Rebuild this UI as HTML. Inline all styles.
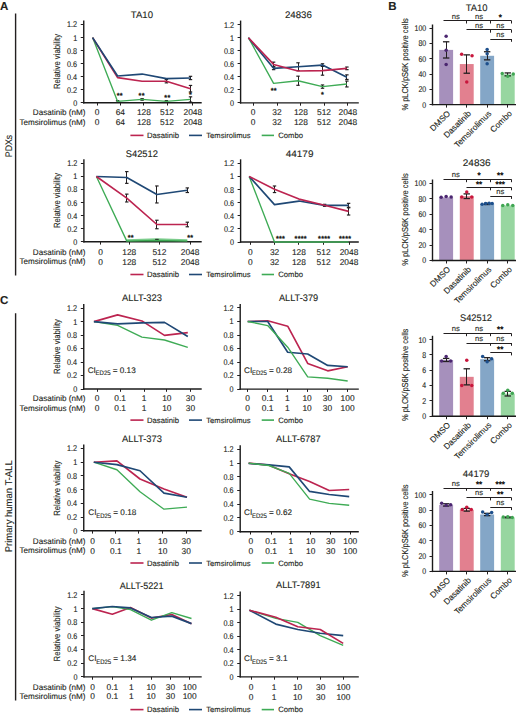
<!DOCTYPE html>
<html><head><meta charset="utf-8"><style>
html,body{margin:0;padding:0;background:#fff;}
body{width:520px;height:714px;overflow:hidden;font-family:"Liberation Sans", sans-serif;}
svg{display:block;}
</style></head><body>
<svg width="520" height="714" viewBox="0 0 520 714" text-rendering="geometricPrecision" font-family='"Liberation Sans", sans-serif'>
<text x="4.20" y="10.02" font-size="11.5" text-anchor="middle" font-weight="bold" fill="#231f20" stroke="#231f20" stroke-width="0.12" >A</text>
<text x="392.50" y="10.02" font-size="11.5" text-anchor="middle" font-weight="bold" fill="#231f20" stroke="#231f20" stroke-width="0.12" >B</text>
<text x="4.20" y="303.62" font-size="11.5" text-anchor="middle" font-weight="bold" fill="#231f20" stroke="#231f20" stroke-width="0.12" >C</text>
<line x1="15.60" y1="13.60" x2="15.60" y2="275.50" stroke="#231f20" stroke-width="1.4" stroke-linecap="butt"/>
<line x1="15.60" y1="313.20" x2="15.60" y2="700.60" stroke="#231f20" stroke-width="1.4" stroke-linecap="butt"/>
<text transform="translate(11.86,146.00) rotate(-90) scale(0.9087,1)" font-size="9.6" text-anchor="middle" fill="#231f20" stroke="#231f20" stroke-width="0.12" font-weight="normal">PDXs</text>
<text transform="translate(12.03,506.30) rotate(-90) scale(0.9660,1)" font-size="9.8" text-anchor="middle" fill="#231f20" stroke="#231f20" stroke-width="0.12" font-weight="normal">Primary human T-ALL</text>
<polyline points="126.8,240.6 156.9,239.6 187.3,240.6" fill="none" stroke="#7ccc8c" stroke-width="2.8"/>
<line x1="83.75" y1="20.48" x2="83.75" y2="103.40" stroke="#1a1a1a" stroke-width="1.4" stroke-linecap="butt"/>
<line x1="83.05" y1="102.70" x2="201.70" y2="102.70" stroke="#1a1a1a" stroke-width="1.4" stroke-linecap="butt"/>
<line x1="80.75" y1="102.50" x2="83.75" y2="102.50" stroke="#231f20" stroke-width="1.0" stroke-linecap="butt"/>
<text transform="translate(77.15,105.61) scale(0.870,1)" font-size="8.3" text-anchor="end" font-weight="normal" fill="#231f20" stroke="#231f20" stroke-width="0.12" >0</text>
<line x1="80.75" y1="89.50" x2="83.75" y2="89.50" stroke="#231f20" stroke-width="1.0" stroke-linecap="butt"/>
<text transform="translate(77.15,92.59) scale(0.870,1)" font-size="8.3" text-anchor="end" font-weight="normal" fill="#231f20" stroke="#231f20" stroke-width="0.12" >0.2</text>
<line x1="80.75" y1="76.50" x2="83.75" y2="76.50" stroke="#231f20" stroke-width="1.0" stroke-linecap="butt"/>
<text transform="translate(77.15,79.56) scale(0.870,1)" font-size="8.3" text-anchor="end" font-weight="normal" fill="#231f20" stroke="#231f20" stroke-width="0.12" >0.4</text>
<line x1="80.75" y1="63.50" x2="83.75" y2="63.50" stroke="#231f20" stroke-width="1.0" stroke-linecap="butt"/>
<text transform="translate(77.15,66.55) scale(0.870,1)" font-size="8.3" text-anchor="end" font-weight="normal" fill="#231f20" stroke="#231f20" stroke-width="0.12" >0.6</text>
<line x1="80.75" y1="50.50" x2="83.75" y2="50.50" stroke="#231f20" stroke-width="1.0" stroke-linecap="butt"/>
<text transform="translate(77.15,53.53) scale(0.870,1)" font-size="8.3" text-anchor="end" font-weight="normal" fill="#231f20" stroke="#231f20" stroke-width="0.12" >0.8</text>
<line x1="80.75" y1="37.50" x2="83.75" y2="37.50" stroke="#231f20" stroke-width="1.0" stroke-linecap="butt"/>
<text transform="translate(77.15,40.51) scale(0.870,1)" font-size="8.3" text-anchor="end" font-weight="normal" fill="#231f20" stroke="#231f20" stroke-width="0.12" >1</text>
<line x1="80.75" y1="24.50" x2="83.75" y2="24.50" stroke="#231f20" stroke-width="1.0" stroke-linecap="butt"/>
<text transform="translate(77.15,27.48) scale(0.870,1)" font-size="8.3" text-anchor="end" font-weight="normal" fill="#231f20" stroke="#231f20" stroke-width="0.12" >1.2</text>
<line x1="97.50" y1="102.70" x2="97.50" y2="105.50" stroke="#231f20" stroke-width="1.0" stroke-linecap="butt"/>
<line x1="120.50" y1="102.70" x2="120.50" y2="105.50" stroke="#231f20" stroke-width="1.0" stroke-linecap="butt"/>
<line x1="143.50" y1="102.70" x2="143.50" y2="105.50" stroke="#231f20" stroke-width="1.0" stroke-linecap="butt"/>
<line x1="167.50" y1="102.70" x2="167.50" y2="105.50" stroke="#231f20" stroke-width="1.0" stroke-linecap="butt"/>
<line x1="192.50" y1="102.70" x2="192.50" y2="105.50" stroke="#231f20" stroke-width="1.0" stroke-linecap="butt"/>
<text x="97.00" y="115.34" font-size="8.4" text-anchor="middle" font-weight="normal" fill="#231f20" stroke="#231f20" stroke-width="0.12" >0</text>
<text x="97.00" y="125.14" font-size="8.4" text-anchor="middle" font-weight="normal" fill="#231f20" stroke="#231f20" stroke-width="0.12" >0</text>
<text x="120.30" y="115.34" font-size="8.4" text-anchor="middle" font-weight="normal" fill="#231f20" stroke="#231f20" stroke-width="0.12" >64</text>
<text x="120.30" y="125.14" font-size="8.4" text-anchor="middle" font-weight="normal" fill="#231f20" stroke="#231f20" stroke-width="0.12" >64</text>
<text x="143.90" y="115.34" font-size="8.4" text-anchor="middle" font-weight="normal" fill="#231f20" stroke="#231f20" stroke-width="0.12" >128</text>
<text x="143.90" y="125.14" font-size="8.4" text-anchor="middle" font-weight="normal" fill="#231f20" stroke="#231f20" stroke-width="0.12" >128</text>
<text x="167.00" y="115.34" font-size="8.4" text-anchor="middle" font-weight="normal" fill="#231f20" stroke="#231f20" stroke-width="0.12" >512</text>
<text x="167.00" y="125.14" font-size="8.4" text-anchor="middle" font-weight="normal" fill="#231f20" stroke="#231f20" stroke-width="0.12" >512</text>
<text x="192.80" y="115.34" font-size="8.4" text-anchor="middle" font-weight="normal" fill="#231f20" stroke="#231f20" stroke-width="0.12" >2048</text>
<text x="192.80" y="125.14" font-size="8.4" text-anchor="middle" font-weight="normal" fill="#231f20" stroke="#231f20" stroke-width="0.12" >2048</text>
<line x1="166.50" y1="79.59" x2="166.50" y2="82.84" stroke="#231f20" stroke-width="1.0" stroke-linecap="butt"/>
<line x1="164.70" y1="79.59" x2="168.10" y2="79.59" stroke="#231f20" stroke-width="1.2" stroke-linecap="butt"/>
<line x1="164.70" y1="82.84" x2="168.10" y2="82.84" stroke="#231f20" stroke-width="1.2" stroke-linecap="butt"/>
<line x1="190.50" y1="85.45" x2="190.50" y2="91.96" stroke="#231f20" stroke-width="1.0" stroke-linecap="butt"/>
<line x1="188.80" y1="85.45" x2="192.20" y2="85.45" stroke="#231f20" stroke-width="1.2" stroke-linecap="butt"/>
<line x1="188.80" y1="91.96" x2="192.20" y2="91.96" stroke="#231f20" stroke-width="1.2" stroke-linecap="butt"/>
<line x1="190.50" y1="76.33" x2="190.50" y2="79.59" stroke="#231f20" stroke-width="1.0" stroke-linecap="butt"/>
<line x1="188.80" y1="76.33" x2="192.20" y2="76.33" stroke="#231f20" stroke-width="1.2" stroke-linecap="butt"/>
<line x1="188.80" y1="79.59" x2="192.20" y2="79.59" stroke="#231f20" stroke-width="1.2" stroke-linecap="butt"/>
<line x1="190.50" y1="96.84" x2="190.50" y2="102.05" stroke="#231f20" stroke-width="1.0" stroke-linecap="butt"/>
<line x1="188.80" y1="96.84" x2="192.20" y2="96.84" stroke="#231f20" stroke-width="1.2" stroke-linecap="butt"/>
<line x1="188.80" y1="102.05" x2="192.20" y2="102.05" stroke="#231f20" stroke-width="1.2" stroke-linecap="butt"/>
<line x1="117.50" y1="100.62" x2="117.50" y2="102.18" stroke="#231f20" stroke-width="1.0" stroke-linecap="butt"/>
<line x1="115.90" y1="100.62" x2="119.30" y2="100.62" stroke="#231f20" stroke-width="1.2" stroke-linecap="butt"/>
<line x1="115.90" y1="102.18" x2="119.30" y2="102.18" stroke="#231f20" stroke-width="1.2" stroke-linecap="butt"/>
<line x1="142.50" y1="98.66" x2="142.50" y2="100.23" stroke="#231f20" stroke-width="1.0" stroke-linecap="butt"/>
<line x1="140.40" y1="98.66" x2="143.80" y2="98.66" stroke="#231f20" stroke-width="1.2" stroke-linecap="butt"/>
<line x1="140.40" y1="100.23" x2="143.80" y2="100.23" stroke="#231f20" stroke-width="1.2" stroke-linecap="butt"/>
<line x1="166.50" y1="100.62" x2="166.50" y2="102.18" stroke="#231f20" stroke-width="1.0" stroke-linecap="butt"/>
<line x1="164.70" y1="100.62" x2="168.10" y2="100.62" stroke="#231f20" stroke-width="1.2" stroke-linecap="butt"/>
<line x1="164.70" y1="102.18" x2="168.10" y2="102.18" stroke="#231f20" stroke-width="1.2" stroke-linecap="butt"/>
<polyline points="92.60,37.60 117.60,101.40 142.10,99.45 166.40,101.40 190.50,99.45" fill="none" stroke="#3eab55" stroke-width="1.35" stroke-linejoin="round"/>
<polyline points="92.60,37.60 117.60,77.64 142.10,81.22 166.40,81.22 190.50,88.70" fill="none" stroke="#bc2450" stroke-width="1.65" stroke-linejoin="round"/>
<polyline points="92.60,37.60 117.60,76.01 142.10,74.06 166.40,78.61 190.50,77.96" fill="none" stroke="#1f4875" stroke-width="1.65" stroke-linejoin="round"/>
<text x="119.85" y="98.24" font-size="7.2" text-anchor="middle" font-weight="normal" fill="#231f20" stroke="#231f20" stroke-width="0.4" letter-spacing="0.3">**</text>
<text x="141.65" y="98.24" font-size="7.2" text-anchor="middle" font-weight="normal" fill="#231f20" stroke="#231f20" stroke-width="0.4" letter-spacing="0.3">**</text>
<text x="167.45" y="100.34" font-size="7.2" text-anchor="middle" font-weight="normal" fill="#231f20" stroke="#231f20" stroke-width="0.4" letter-spacing="0.3">**</text>
<text x="190.45" y="97.14" font-size="7.2" text-anchor="middle" font-weight="normal" fill="#231f20" stroke="#231f20" stroke-width="0.4" letter-spacing="0.3">*</text>
<text transform="translate(141.90,18.18) scale(1.006,1)" font-size="9.5" text-anchor="middle" font-weight="normal" fill="#231f20" stroke="#231f20" stroke-width="0.12" >TA10</text>
<text transform="translate(60.15,61.50) rotate(-90) scale(0.8524,1)" font-size="9.0" text-anchor="middle" fill="#231f20" stroke="#231f20" stroke-width="0.12" font-weight="normal">Relative viability</text>
<text x="85.50" y="115.23" font-size="8.1" text-anchor="end" font-weight="normal" fill="#231f20" stroke="#231f20" stroke-width="0.12" >Dasatinib (nM)</text>
<text x="85.50" y="125.03" font-size="8.1" text-anchor="end" font-weight="normal" fill="#231f20" stroke="#231f20" stroke-width="0.12" >Temsirolimus (nM)</text>
<line x1="240.60" y1="20.56" x2="240.60" y2="103.60" stroke="#1a1a1a" stroke-width="1.4" stroke-linecap="butt"/>
<line x1="239.90" y1="102.90" x2="358.80" y2="102.90" stroke="#1a1a1a" stroke-width="1.4" stroke-linecap="butt"/>
<line x1="237.60" y1="102.50" x2="240.60" y2="102.50" stroke="#231f20" stroke-width="1.0" stroke-linecap="butt"/>
<text transform="translate(234.00,105.81) scale(0.870,1)" font-size="8.3" text-anchor="end" font-weight="normal" fill="#231f20" stroke="#231f20" stroke-width="0.12" >0</text>
<line x1="237.60" y1="89.50" x2="240.60" y2="89.50" stroke="#231f20" stroke-width="1.0" stroke-linecap="butt"/>
<text transform="translate(234.00,92.77) scale(0.870,1)" font-size="8.3" text-anchor="end" font-weight="normal" fill="#231f20" stroke="#231f20" stroke-width="0.12" >0.2</text>
<line x1="237.60" y1="76.50" x2="240.60" y2="76.50" stroke="#231f20" stroke-width="1.0" stroke-linecap="butt"/>
<text transform="translate(234.00,79.73) scale(0.870,1)" font-size="8.3" text-anchor="end" font-weight="normal" fill="#231f20" stroke="#231f20" stroke-width="0.12" >0.4</text>
<line x1="237.60" y1="63.50" x2="240.60" y2="63.50" stroke="#231f20" stroke-width="1.0" stroke-linecap="butt"/>
<text transform="translate(234.00,66.69) scale(0.870,1)" font-size="8.3" text-anchor="end" font-weight="normal" fill="#231f20" stroke="#231f20" stroke-width="0.12" >0.6</text>
<line x1="237.60" y1="50.50" x2="240.60" y2="50.50" stroke="#231f20" stroke-width="1.0" stroke-linecap="butt"/>
<text transform="translate(234.00,53.65) scale(0.870,1)" font-size="8.3" text-anchor="end" font-weight="normal" fill="#231f20" stroke="#231f20" stroke-width="0.12" >0.8</text>
<line x1="237.60" y1="37.50" x2="240.60" y2="37.50" stroke="#231f20" stroke-width="1.0" stroke-linecap="butt"/>
<text transform="translate(234.00,40.61) scale(0.870,1)" font-size="8.3" text-anchor="end" font-weight="normal" fill="#231f20" stroke="#231f20" stroke-width="0.12" >1</text>
<line x1="237.60" y1="24.50" x2="240.60" y2="24.50" stroke="#231f20" stroke-width="1.0" stroke-linecap="butt"/>
<text transform="translate(234.00,27.56) scale(0.870,1)" font-size="8.3" text-anchor="end" font-weight="normal" fill="#231f20" stroke="#231f20" stroke-width="0.12" >1.2</text>
<line x1="253.50" y1="102.90" x2="253.50" y2="105.70" stroke="#231f20" stroke-width="1.0" stroke-linecap="butt"/>
<line x1="277.50" y1="102.90" x2="277.50" y2="105.70" stroke="#231f20" stroke-width="1.0" stroke-linecap="butt"/>
<line x1="300.50" y1="102.90" x2="300.50" y2="105.70" stroke="#231f20" stroke-width="1.0" stroke-linecap="butt"/>
<line x1="324.50" y1="102.90" x2="324.50" y2="105.70" stroke="#231f20" stroke-width="1.0" stroke-linecap="butt"/>
<line x1="347.50" y1="102.90" x2="347.50" y2="105.70" stroke="#231f20" stroke-width="1.0" stroke-linecap="butt"/>
<text x="253.20" y="115.34" font-size="8.4" text-anchor="middle" font-weight="normal" fill="#231f20" stroke="#231f20" stroke-width="0.12" >0</text>
<text x="253.20" y="125.14" font-size="8.4" text-anchor="middle" font-weight="normal" fill="#231f20" stroke="#231f20" stroke-width="0.12" >0</text>
<text x="277.00" y="115.34" font-size="8.4" text-anchor="middle" font-weight="normal" fill="#231f20" stroke="#231f20" stroke-width="0.12" >32</text>
<text x="277.00" y="125.14" font-size="8.4" text-anchor="middle" font-weight="normal" fill="#231f20" stroke="#231f20" stroke-width="0.12" >32</text>
<text x="300.90" y="115.34" font-size="8.4" text-anchor="middle" font-weight="normal" fill="#231f20" stroke="#231f20" stroke-width="0.12" >128</text>
<text x="300.90" y="125.14" font-size="8.4" text-anchor="middle" font-weight="normal" fill="#231f20" stroke="#231f20" stroke-width="0.12" >128</text>
<text x="324.00" y="115.34" font-size="8.4" text-anchor="middle" font-weight="normal" fill="#231f20" stroke="#231f20" stroke-width="0.12" >512</text>
<text x="324.00" y="125.14" font-size="8.4" text-anchor="middle" font-weight="normal" fill="#231f20" stroke="#231f20" stroke-width="0.12" >512</text>
<text x="347.80" y="115.34" font-size="8.4" text-anchor="middle" font-weight="normal" fill="#231f20" stroke="#231f20" stroke-width="0.12" >2048</text>
<text x="347.80" y="125.14" font-size="8.4" text-anchor="middle" font-weight="normal" fill="#231f20" stroke="#231f20" stroke-width="0.12" >2048</text>
<line x1="273.50" y1="62.15" x2="273.50" y2="66.71" stroke="#231f20" stroke-width="1.0" stroke-linecap="butt"/>
<line x1="271.90" y1="62.15" x2="275.30" y2="62.15" stroke="#231f20" stroke-width="1.2" stroke-linecap="butt"/>
<line x1="271.90" y1="66.71" x2="275.30" y2="66.71" stroke="#231f20" stroke-width="1.2" stroke-linecap="butt"/>
<line x1="273.50" y1="67.04" x2="273.50" y2="69.65" stroke="#231f20" stroke-width="1.0" stroke-linecap="butt"/>
<line x1="271.90" y1="67.04" x2="275.30" y2="67.04" stroke="#231f20" stroke-width="1.2" stroke-linecap="butt"/>
<line x1="271.90" y1="69.65" x2="275.30" y2="69.65" stroke="#231f20" stroke-width="1.2" stroke-linecap="butt"/>
<line x1="298.50" y1="62.80" x2="298.50" y2="70.63" stroke="#231f20" stroke-width="1.0" stroke-linecap="butt"/>
<line x1="296.30" y1="62.80" x2="299.70" y2="62.80" stroke="#231f20" stroke-width="1.2" stroke-linecap="butt"/>
<line x1="296.30" y1="70.63" x2="299.70" y2="70.63" stroke="#231f20" stroke-width="1.2" stroke-linecap="butt"/>
<line x1="298.50" y1="76.17" x2="298.50" y2="85.30" stroke="#231f20" stroke-width="1.0" stroke-linecap="butt"/>
<line x1="296.30" y1="76.17" x2="299.70" y2="76.17" stroke="#231f20" stroke-width="1.2" stroke-linecap="butt"/>
<line x1="296.30" y1="85.30" x2="299.70" y2="85.30" stroke="#231f20" stroke-width="1.2" stroke-linecap="butt"/>
<line x1="322.50" y1="63.78" x2="322.50" y2="66.39" stroke="#231f20" stroke-width="1.0" stroke-linecap="butt"/>
<line x1="320.80" y1="63.78" x2="324.20" y2="63.78" stroke="#231f20" stroke-width="1.2" stroke-linecap="butt"/>
<line x1="320.80" y1="66.39" x2="324.20" y2="66.39" stroke="#231f20" stroke-width="1.2" stroke-linecap="butt"/>
<line x1="322.50" y1="66.06" x2="322.50" y2="75.19" stroke="#231f20" stroke-width="1.0" stroke-linecap="butt"/>
<line x1="320.80" y1="66.06" x2="324.20" y2="66.06" stroke="#231f20" stroke-width="1.2" stroke-linecap="butt"/>
<line x1="320.80" y1="75.19" x2="324.20" y2="75.19" stroke="#231f20" stroke-width="1.2" stroke-linecap="butt"/>
<line x1="322.50" y1="84.97" x2="322.50" y2="88.23" stroke="#231f20" stroke-width="1.0" stroke-linecap="butt"/>
<line x1="320.80" y1="84.97" x2="324.20" y2="84.97" stroke="#231f20" stroke-width="1.2" stroke-linecap="butt"/>
<line x1="320.80" y1="88.23" x2="324.20" y2="88.23" stroke="#231f20" stroke-width="1.2" stroke-linecap="butt"/>
<line x1="346.50" y1="67.04" x2="346.50" y2="69.65" stroke="#231f20" stroke-width="1.0" stroke-linecap="butt"/>
<line x1="345.20" y1="67.04" x2="348.60" y2="67.04" stroke="#231f20" stroke-width="1.2" stroke-linecap="butt"/>
<line x1="345.20" y1="69.65" x2="348.60" y2="69.65" stroke="#231f20" stroke-width="1.2" stroke-linecap="butt"/>
<line x1="346.50" y1="74.86" x2="346.50" y2="79.43" stroke="#231f20" stroke-width="1.0" stroke-linecap="butt"/>
<line x1="345.20" y1="74.86" x2="348.60" y2="74.86" stroke="#231f20" stroke-width="1.2" stroke-linecap="butt"/>
<line x1="345.20" y1="79.43" x2="348.60" y2="79.43" stroke="#231f20" stroke-width="1.2" stroke-linecap="butt"/>
<line x1="346.50" y1="81.06" x2="346.50" y2="86.93" stroke="#231f20" stroke-width="1.0" stroke-linecap="butt"/>
<line x1="345.20" y1="81.06" x2="348.60" y2="81.06" stroke="#231f20" stroke-width="1.2" stroke-linecap="butt"/>
<line x1="345.20" y1="86.93" x2="348.60" y2="86.93" stroke="#231f20" stroke-width="1.2" stroke-linecap="butt"/>
<polyline points="248.40,37.70 273.60,83.34 298.00,80.73 322.50,86.60 346.90,83.99" fill="none" stroke="#3eab55" stroke-width="1.35" stroke-linejoin="round"/>
<polyline points="248.40,37.70 273.60,68.34 298.00,66.71 322.50,65.08 346.90,77.15" fill="none" stroke="#1f4875" stroke-width="1.65" stroke-linejoin="round"/>
<polyline points="248.40,37.70 273.60,64.43 298.00,70.95 322.50,70.63 346.90,68.34" fill="none" stroke="#bc2450" stroke-width="1.65" stroke-linejoin="round"/>
<text x="273.75" y="92.94" font-size="7.2" text-anchor="middle" font-weight="normal" fill="#231f20" stroke="#231f20" stroke-width="0.4" letter-spacing="0.3">**</text>
<text x="322.65" y="96.94" font-size="7.2" text-anchor="middle" font-weight="normal" fill="#231f20" stroke="#231f20" stroke-width="0.4" letter-spacing="0.3">*</text>
<text transform="translate(298.40,17.93) scale(1.018,1)" font-size="9.5" text-anchor="middle" font-weight="normal" fill="#231f20" stroke="#231f20" stroke-width="0.12" >24836</text>
<line x1="83.90" y1="159.34" x2="83.90" y2="242.50" stroke="#1a1a1a" stroke-width="1.4" stroke-linecap="butt"/>
<line x1="83.20" y1="241.80" x2="201.70" y2="241.80" stroke="#1a1a1a" stroke-width="1.4" stroke-linecap="butt"/>
<line x1="80.90" y1="241.50" x2="83.90" y2="241.50" stroke="#231f20" stroke-width="1.0" stroke-linecap="butt"/>
<text transform="translate(77.30,244.71) scale(0.870,1)" font-size="8.3" text-anchor="end" font-weight="normal" fill="#231f20" stroke="#231f20" stroke-width="0.12" >0</text>
<line x1="80.90" y1="228.50" x2="83.90" y2="228.50" stroke="#231f20" stroke-width="1.0" stroke-linecap="butt"/>
<text transform="translate(77.30,231.65) scale(0.870,1)" font-size="8.3" text-anchor="end" font-weight="normal" fill="#231f20" stroke="#231f20" stroke-width="0.12" >0.2</text>
<line x1="80.90" y1="215.50" x2="83.90" y2="215.50" stroke="#231f20" stroke-width="1.0" stroke-linecap="butt"/>
<text transform="translate(77.30,218.59) scale(0.870,1)" font-size="8.3" text-anchor="end" font-weight="normal" fill="#231f20" stroke="#231f20" stroke-width="0.12" >0.4</text>
<line x1="80.90" y1="202.50" x2="83.90" y2="202.50" stroke="#231f20" stroke-width="1.0" stroke-linecap="butt"/>
<text transform="translate(77.30,205.53) scale(0.870,1)" font-size="8.3" text-anchor="end" font-weight="normal" fill="#231f20" stroke="#231f20" stroke-width="0.12" >0.6</text>
<line x1="80.90" y1="189.50" x2="83.90" y2="189.50" stroke="#231f20" stroke-width="1.0" stroke-linecap="butt"/>
<text transform="translate(77.30,192.47) scale(0.870,1)" font-size="8.3" text-anchor="end" font-weight="normal" fill="#231f20" stroke="#231f20" stroke-width="0.12" >0.8</text>
<line x1="80.90" y1="176.50" x2="83.90" y2="176.50" stroke="#231f20" stroke-width="1.0" stroke-linecap="butt"/>
<text transform="translate(77.30,179.41) scale(0.870,1)" font-size="8.3" text-anchor="end" font-weight="normal" fill="#231f20" stroke="#231f20" stroke-width="0.12" >1</text>
<line x1="80.90" y1="163.50" x2="83.90" y2="163.50" stroke="#231f20" stroke-width="1.0" stroke-linecap="butt"/>
<text transform="translate(77.30,166.34) scale(0.870,1)" font-size="8.3" text-anchor="end" font-weight="normal" fill="#231f20" stroke="#231f20" stroke-width="0.12" >1.2</text>
<line x1="100.50" y1="241.80" x2="100.50" y2="244.60" stroke="#231f20" stroke-width="1.0" stroke-linecap="butt"/>
<line x1="129.50" y1="241.80" x2="129.50" y2="244.60" stroke="#231f20" stroke-width="1.0" stroke-linecap="butt"/>
<line x1="159.50" y1="241.80" x2="159.50" y2="244.60" stroke="#231f20" stroke-width="1.0" stroke-linecap="butt"/>
<line x1="190.50" y1="241.80" x2="190.50" y2="244.60" stroke="#231f20" stroke-width="1.0" stroke-linecap="butt"/>
<text x="100.70" y="254.74" font-size="8.4" text-anchor="middle" font-weight="normal" fill="#231f20" stroke="#231f20" stroke-width="0.12" >0</text>
<text x="100.70" y="264.54" font-size="8.4" text-anchor="middle" font-weight="normal" fill="#231f20" stroke="#231f20" stroke-width="0.12" >0</text>
<text x="129.30" y="254.74" font-size="8.4" text-anchor="middle" font-weight="normal" fill="#231f20" stroke="#231f20" stroke-width="0.12" >128</text>
<text x="129.30" y="264.54" font-size="8.4" text-anchor="middle" font-weight="normal" fill="#231f20" stroke="#231f20" stroke-width="0.12" >128</text>
<text x="159.40" y="254.74" font-size="8.4" text-anchor="middle" font-weight="normal" fill="#231f20" stroke="#231f20" stroke-width="0.12" >512</text>
<text x="159.40" y="264.54" font-size="8.4" text-anchor="middle" font-weight="normal" fill="#231f20" stroke="#231f20" stroke-width="0.12" >512</text>
<text x="190.10" y="254.74" font-size="8.4" text-anchor="middle" font-weight="normal" fill="#231f20" stroke="#231f20" stroke-width="0.12" >2048</text>
<text x="190.10" y="264.54" font-size="8.4" text-anchor="middle" font-weight="normal" fill="#231f20" stroke="#231f20" stroke-width="0.12" >2048</text>
<line x1="126.50" y1="171.60" x2="126.50" y2="183.36" stroke="#231f20" stroke-width="1.0" stroke-linecap="butt"/>
<line x1="125.10" y1="171.60" x2="128.50" y2="171.60" stroke="#231f20" stroke-width="1.2" stroke-linecap="butt"/>
<line x1="125.10" y1="183.36" x2="128.50" y2="183.36" stroke="#231f20" stroke-width="1.2" stroke-linecap="butt"/>
<line x1="126.50" y1="194.13" x2="126.50" y2="201.97" stroke="#231f20" stroke-width="1.0" stroke-linecap="butt"/>
<line x1="125.10" y1="194.13" x2="128.50" y2="194.13" stroke="#231f20" stroke-width="1.2" stroke-linecap="butt"/>
<line x1="125.10" y1="201.97" x2="128.50" y2="201.97" stroke="#231f20" stroke-width="1.2" stroke-linecap="butt"/>
<line x1="156.50" y1="185.97" x2="156.50" y2="202.95" stroke="#231f20" stroke-width="1.0" stroke-linecap="butt"/>
<line x1="155.20" y1="185.97" x2="158.60" y2="185.97" stroke="#231f20" stroke-width="1.2" stroke-linecap="butt"/>
<line x1="155.20" y1="202.95" x2="158.60" y2="202.95" stroke="#231f20" stroke-width="1.2" stroke-linecap="butt"/>
<line x1="156.50" y1="220.25" x2="156.50" y2="228.74" stroke="#231f20" stroke-width="1.0" stroke-linecap="butt"/>
<line x1="155.20" y1="220.25" x2="158.60" y2="220.25" stroke="#231f20" stroke-width="1.2" stroke-linecap="butt"/>
<line x1="155.20" y1="228.74" x2="158.60" y2="228.74" stroke="#231f20" stroke-width="1.2" stroke-linecap="butt"/>
<line x1="187.50" y1="187.93" x2="187.50" y2="192.50" stroke="#231f20" stroke-width="1.0" stroke-linecap="butt"/>
<line x1="185.60" y1="187.93" x2="189.00" y2="187.93" stroke="#231f20" stroke-width="1.2" stroke-linecap="butt"/>
<line x1="185.60" y1="192.50" x2="189.00" y2="192.50" stroke="#231f20" stroke-width="1.2" stroke-linecap="butt"/>
<line x1="187.50" y1="222.21" x2="187.50" y2="226.78" stroke="#231f20" stroke-width="1.0" stroke-linecap="butt"/>
<line x1="185.60" y1="222.21" x2="189.00" y2="222.21" stroke="#231f20" stroke-width="1.2" stroke-linecap="butt"/>
<line x1="185.60" y1="226.78" x2="189.00" y2="226.78" stroke="#231f20" stroke-width="1.2" stroke-linecap="butt"/>
<line x1="156.50" y1="239.45" x2="156.50" y2="240.23" stroke="#231f20" stroke-width="1.0" stroke-linecap="butt"/>
<line x1="155.20" y1="239.45" x2="158.60" y2="239.45" stroke="#231f20" stroke-width="1.2" stroke-linecap="butt"/>
<line x1="155.20" y1="240.23" x2="158.60" y2="240.23" stroke="#231f20" stroke-width="1.2" stroke-linecap="butt"/>
<polyline points="96.40,176.50 126.80,241.15 156.90,240.49 187.30,241.15" fill="none" stroke="#3eab55" stroke-width="1.35" stroke-linejoin="round"/>
<polyline points="96.40,176.50 126.80,177.48 156.90,194.46 187.30,190.21" fill="none" stroke="#1f4875" stroke-width="1.65" stroke-linejoin="round"/>
<polyline points="96.40,176.50 126.80,198.05 156.90,224.50 187.30,224.50" fill="none" stroke="#bc2450" stroke-width="1.65" stroke-linejoin="round"/>
<text x="130.85" y="240.04" font-size="7.2" text-anchor="middle" font-weight="normal" fill="#231f20" stroke="#231f20" stroke-width="0.4" letter-spacing="0.3">**</text>
<text x="190.25" y="240.04" font-size="7.2" text-anchor="middle" font-weight="normal" fill="#231f20" stroke="#231f20" stroke-width="0.4" letter-spacing="0.3">**</text>
<text transform="translate(141.85,157.38) scale(0.983,1)" font-size="9.5" text-anchor="middle" font-weight="normal" fill="#231f20" stroke="#231f20" stroke-width="0.12" >S42512</text>
<text transform="translate(60.15,200.50) rotate(-90) scale(0.8524,1)" font-size="9.0" text-anchor="middle" fill="#231f20" stroke="#231f20" stroke-width="0.12" font-weight="normal">Relative viability</text>
<text x="85.50" y="254.64" font-size="8.1" text-anchor="end" font-weight="normal" fill="#231f20" stroke="#231f20" stroke-width="0.12" >Dasatinib (nM)</text>
<text x="85.50" y="264.44" font-size="8.1" text-anchor="end" font-weight="normal" fill="#231f20" stroke="#231f20" stroke-width="0.12" >Temsirolimus (nM)</text>
<line x1="240.60" y1="159.30" x2="240.60" y2="242.70" stroke="#1a1a1a" stroke-width="1.4" stroke-linecap="butt"/>
<line x1="239.90" y1="242.00" x2="358.80" y2="242.00" stroke="#1a1a1a" stroke-width="1.4" stroke-linecap="butt"/>
<line x1="237.60" y1="242.50" x2="240.60" y2="242.50" stroke="#231f20" stroke-width="1.0" stroke-linecap="butt"/>
<text transform="translate(234.00,244.91) scale(0.870,1)" font-size="8.3" text-anchor="end" font-weight="normal" fill="#231f20" stroke="#231f20" stroke-width="0.12" >0</text>
<line x1="237.60" y1="228.50" x2="240.60" y2="228.50" stroke="#231f20" stroke-width="1.0" stroke-linecap="butt"/>
<text transform="translate(234.00,231.81) scale(0.870,1)" font-size="8.3" text-anchor="end" font-weight="normal" fill="#231f20" stroke="#231f20" stroke-width="0.12" >0.2</text>
<line x1="237.60" y1="215.50" x2="240.60" y2="215.50" stroke="#231f20" stroke-width="1.0" stroke-linecap="butt"/>
<text transform="translate(234.00,218.71) scale(0.870,1)" font-size="8.3" text-anchor="end" font-weight="normal" fill="#231f20" stroke="#231f20" stroke-width="0.12" >0.4</text>
<line x1="237.60" y1="202.50" x2="240.60" y2="202.50" stroke="#231f20" stroke-width="1.0" stroke-linecap="butt"/>
<text transform="translate(234.00,205.60) scale(0.870,1)" font-size="8.3" text-anchor="end" font-weight="normal" fill="#231f20" stroke="#231f20" stroke-width="0.12" >0.6</text>
<line x1="237.60" y1="189.50" x2="240.60" y2="189.50" stroke="#231f20" stroke-width="1.0" stroke-linecap="butt"/>
<text transform="translate(234.00,192.50) scale(0.870,1)" font-size="8.3" text-anchor="end" font-weight="normal" fill="#231f20" stroke="#231f20" stroke-width="0.12" >0.8</text>
<line x1="237.60" y1="176.50" x2="240.60" y2="176.50" stroke="#231f20" stroke-width="1.0" stroke-linecap="butt"/>
<text transform="translate(234.00,179.41) scale(0.870,1)" font-size="8.3" text-anchor="end" font-weight="normal" fill="#231f20" stroke="#231f20" stroke-width="0.12" >1</text>
<line x1="237.60" y1="163.50" x2="240.60" y2="163.50" stroke="#231f20" stroke-width="1.0" stroke-linecap="butt"/>
<text transform="translate(234.00,166.30) scale(0.870,1)" font-size="8.3" text-anchor="end" font-weight="normal" fill="#231f20" stroke="#231f20" stroke-width="0.12" >1.2</text>
<line x1="250.50" y1="242.00" x2="250.50" y2="244.80" stroke="#231f20" stroke-width="1.0" stroke-linecap="butt"/>
<line x1="274.50" y1="242.00" x2="274.50" y2="244.80" stroke="#231f20" stroke-width="1.0" stroke-linecap="butt"/>
<line x1="298.50" y1="242.00" x2="298.50" y2="244.80" stroke="#231f20" stroke-width="1.0" stroke-linecap="butt"/>
<line x1="323.50" y1="242.00" x2="323.50" y2="244.80" stroke="#231f20" stroke-width="1.0" stroke-linecap="butt"/>
<line x1="349.50" y1="242.00" x2="349.50" y2="244.80" stroke="#231f20" stroke-width="1.0" stroke-linecap="butt"/>
<text x="250.40" y="255.14" font-size="8.4" text-anchor="middle" font-weight="normal" fill="#231f20" stroke="#231f20" stroke-width="0.12" >0</text>
<text x="250.40" y="264.54" font-size="8.4" text-anchor="middle" font-weight="normal" fill="#231f20" stroke="#231f20" stroke-width="0.12" >0</text>
<text x="274.60" y="255.14" font-size="8.4" text-anchor="middle" font-weight="normal" fill="#231f20" stroke="#231f20" stroke-width="0.12" >32</text>
<text x="274.60" y="264.54" font-size="8.4" text-anchor="middle" font-weight="normal" fill="#231f20" stroke="#231f20" stroke-width="0.12" >32</text>
<text x="298.90" y="255.14" font-size="8.4" text-anchor="middle" font-weight="normal" fill="#231f20" stroke="#231f20" stroke-width="0.12" >128</text>
<text x="298.90" y="264.54" font-size="8.4" text-anchor="middle" font-weight="normal" fill="#231f20" stroke="#231f20" stroke-width="0.12" >128</text>
<text x="323.60" y="255.14" font-size="8.4" text-anchor="middle" font-weight="normal" fill="#231f20" stroke="#231f20" stroke-width="0.12" >512</text>
<text x="323.60" y="264.54" font-size="8.4" text-anchor="middle" font-weight="normal" fill="#231f20" stroke="#231f20" stroke-width="0.12" >512</text>
<text x="349.00" y="255.14" font-size="8.4" text-anchor="middle" font-weight="normal" fill="#231f20" stroke="#231f20" stroke-width="0.12" >2048</text>
<text x="349.00" y="264.54" font-size="8.4" text-anchor="middle" font-weight="normal" fill="#231f20" stroke="#231f20" stroke-width="0.12" >2048</text>
<line x1="274.50" y1="186.00" x2="274.50" y2="192.55" stroke="#231f20" stroke-width="1.0" stroke-linecap="butt"/>
<line x1="272.80" y1="186.00" x2="276.20" y2="186.00" stroke="#231f20" stroke-width="1.2" stroke-linecap="butt"/>
<line x1="272.80" y1="192.55" x2="276.20" y2="192.55" stroke="#231f20" stroke-width="1.2" stroke-linecap="butt"/>
<line x1="324.50" y1="204.34" x2="324.50" y2="206.30" stroke="#231f20" stroke-width="1.0" stroke-linecap="butt"/>
<line x1="322.90" y1="204.34" x2="326.30" y2="204.34" stroke="#231f20" stroke-width="1.2" stroke-linecap="butt"/>
<line x1="322.90" y1="206.30" x2="326.30" y2="206.30" stroke="#231f20" stroke-width="1.2" stroke-linecap="butt"/>
<line x1="348.50" y1="207.81" x2="348.50" y2="215.01" stroke="#231f20" stroke-width="1.0" stroke-linecap="butt"/>
<line x1="346.90" y1="207.81" x2="350.30" y2="207.81" stroke="#231f20" stroke-width="1.2" stroke-linecap="butt"/>
<line x1="346.90" y1="215.01" x2="350.30" y2="215.01" stroke="#231f20" stroke-width="1.2" stroke-linecap="butt"/>
<line x1="348.50" y1="203.35" x2="348.50" y2="207.28" stroke="#231f20" stroke-width="1.0" stroke-linecap="butt"/>
<line x1="346.90" y1="203.35" x2="350.30" y2="203.35" stroke="#231f20" stroke-width="1.2" stroke-linecap="butt"/>
<line x1="346.90" y1="207.28" x2="350.30" y2="207.28" stroke="#231f20" stroke-width="1.2" stroke-linecap="butt"/>
<polyline points="249.20,176.50 274.50,242.00 299.00,242.00 324.60,242.00 348.60,242.00" fill="none" stroke="#3eab55" stroke-width="1.35" stroke-linejoin="round"/>
<polyline points="249.20,176.50 274.50,204.67 299.00,201.06 324.60,205.32 348.60,205.32" fill="none" stroke="#1f4875" stroke-width="1.65" stroke-linejoin="round"/>
<polyline points="249.20,176.50 274.50,189.27 299.00,199.10 324.60,205.32 348.60,211.41" fill="none" stroke="#bc2450" stroke-width="1.65" stroke-linejoin="round"/>
<text x="280.55" y="240.54" font-size="7.2" text-anchor="middle" font-weight="normal" fill="#231f20" stroke="#231f20" stroke-width="0.4" letter-spacing="0.3">***</text>
<text x="300.75" y="241.24" font-size="7.2" text-anchor="middle" font-weight="normal" fill="#231f20" stroke="#231f20" stroke-width="0.4" letter-spacing="0.3">****</text>
<text x="324.25" y="241.24" font-size="7.2" text-anchor="middle" font-weight="normal" fill="#231f20" stroke="#231f20" stroke-width="0.4" letter-spacing="0.3">****</text>
<text x="345.15" y="241.24" font-size="7.2" text-anchor="middle" font-weight="normal" fill="#231f20" stroke="#231f20" stroke-width="0.4" letter-spacing="0.3">****</text>
<text transform="translate(299.60,157.07) scale(1.045,1)" font-size="9.5" text-anchor="middle" font-weight="normal" fill="#231f20" stroke="#231f20" stroke-width="0.12" >44179</text>
<line x1="130.40" y1="135.40" x2="143.50" y2="135.40" stroke="#bc2450" stroke-width="1.6" stroke-linecap="butt"/>
<text x="147.00" y="138.09" font-size="7.7" text-anchor="start" font-weight="normal" fill="#231f20" stroke="#231f20" stroke-width="0.12" >Dasatinib</text>
<line x1="189.00" y1="135.40" x2="202.00" y2="135.40" stroke="#1f4875" stroke-width="1.6" stroke-linecap="butt"/>
<text x="206.30" y="138.06" font-size="7.6" text-anchor="start" font-weight="normal" fill="#231f20" stroke="#231f20" stroke-width="0.12" >Temsirolimus</text>
<line x1="261.70" y1="135.40" x2="274.00" y2="135.40" stroke="#3eab55" stroke-width="1.6" stroke-linecap="butt"/>
<text x="278.20" y="138.09" font-size="7.7" text-anchor="start" font-weight="normal" fill="#231f20" stroke="#231f20" stroke-width="0.12" >Combo</text>
<line x1="130.40" y1="274.50" x2="143.50" y2="274.50" stroke="#bc2450" stroke-width="1.6" stroke-linecap="butt"/>
<text x="147.00" y="277.19" font-size="7.7" text-anchor="start" font-weight="normal" fill="#231f20" stroke="#231f20" stroke-width="0.12" >Dasatinib</text>
<line x1="189.00" y1="274.50" x2="202.00" y2="274.50" stroke="#1f4875" stroke-width="1.6" stroke-linecap="butt"/>
<text x="206.30" y="277.16" font-size="7.6" text-anchor="start" font-weight="normal" fill="#231f20" stroke="#231f20" stroke-width="0.12" >Temsirolimus</text>
<line x1="261.70" y1="274.50" x2="274.00" y2="274.50" stroke="#3eab55" stroke-width="1.6" stroke-linecap="butt"/>
<text x="278.20" y="277.19" font-size="7.7" text-anchor="start" font-weight="normal" fill="#231f20" stroke="#231f20" stroke-width="0.12" >Combo</text>
<line x1="83.75" y1="304.02" x2="83.75" y2="389.70" stroke="#1a1a1a" stroke-width="1.4" stroke-linecap="butt"/>
<line x1="83.05" y1="389.00" x2="201.70" y2="389.00" stroke="#1a1a1a" stroke-width="1.4" stroke-linecap="butt"/>
<line x1="80.75" y1="389.50" x2="83.75" y2="389.50" stroke="#231f20" stroke-width="1.0" stroke-linecap="butt"/>
<text transform="translate(77.15,391.90) scale(0.870,1)" font-size="8.3" text-anchor="end" font-weight="normal" fill="#231f20" stroke="#231f20" stroke-width="0.12" >0</text>
<line x1="80.75" y1="375.50" x2="83.75" y2="375.50" stroke="#231f20" stroke-width="1.0" stroke-linecap="butt"/>
<text transform="translate(77.15,378.42) scale(0.870,1)" font-size="8.3" text-anchor="end" font-weight="normal" fill="#231f20" stroke="#231f20" stroke-width="0.12" >0.2</text>
<line x1="80.75" y1="362.50" x2="83.75" y2="362.50" stroke="#231f20" stroke-width="1.0" stroke-linecap="butt"/>
<text transform="translate(77.15,364.94) scale(0.870,1)" font-size="8.3" text-anchor="end" font-weight="normal" fill="#231f20" stroke="#231f20" stroke-width="0.12" >0.4</text>
<line x1="80.75" y1="348.50" x2="83.75" y2="348.50" stroke="#231f20" stroke-width="1.0" stroke-linecap="butt"/>
<text transform="translate(77.15,351.46) scale(0.870,1)" font-size="8.3" text-anchor="end" font-weight="normal" fill="#231f20" stroke="#231f20" stroke-width="0.12" >0.6</text>
<line x1="80.75" y1="335.50" x2="83.75" y2="335.50" stroke="#231f20" stroke-width="1.0" stroke-linecap="butt"/>
<text transform="translate(77.15,337.99) scale(0.870,1)" font-size="8.3" text-anchor="end" font-weight="normal" fill="#231f20" stroke="#231f20" stroke-width="0.12" >0.8</text>
<line x1="80.75" y1="321.50" x2="83.75" y2="321.50" stroke="#231f20" stroke-width="1.0" stroke-linecap="butt"/>
<text transform="translate(77.15,324.50) scale(0.870,1)" font-size="8.3" text-anchor="end" font-weight="normal" fill="#231f20" stroke="#231f20" stroke-width="0.12" >1</text>
<line x1="80.75" y1="308.50" x2="83.75" y2="308.50" stroke="#231f20" stroke-width="1.0" stroke-linecap="butt"/>
<text transform="translate(77.15,311.02) scale(0.870,1)" font-size="8.3" text-anchor="end" font-weight="normal" fill="#231f20" stroke="#231f20" stroke-width="0.12" >1.2</text>
<line x1="97.50" y1="389.00" x2="97.50" y2="391.80" stroke="#231f20" stroke-width="1.0" stroke-linecap="butt"/>
<line x1="120.50" y1="389.00" x2="120.50" y2="391.80" stroke="#231f20" stroke-width="1.0" stroke-linecap="butt"/>
<line x1="144.50" y1="389.00" x2="144.50" y2="391.80" stroke="#231f20" stroke-width="1.0" stroke-linecap="butt"/>
<line x1="166.50" y1="389.00" x2="166.50" y2="391.80" stroke="#231f20" stroke-width="1.0" stroke-linecap="butt"/>
<line x1="190.50" y1="389.00" x2="190.50" y2="391.80" stroke="#231f20" stroke-width="1.0" stroke-linecap="butt"/>
<text x="97.10" y="401.34" font-size="8.4" text-anchor="middle" font-weight="normal" fill="#231f20" stroke="#231f20" stroke-width="0.12" >0</text>
<text x="97.10" y="410.94" font-size="8.4" text-anchor="middle" font-weight="normal" fill="#231f20" stroke="#231f20" stroke-width="0.12" >0</text>
<text x="120.20" y="401.34" font-size="8.4" text-anchor="middle" font-weight="normal" fill="#231f20" stroke="#231f20" stroke-width="0.12" >0.1</text>
<text x="120.20" y="410.94" font-size="8.4" text-anchor="middle" font-weight="normal" fill="#231f20" stroke="#231f20" stroke-width="0.12" >0.1</text>
<text x="144.00" y="401.34" font-size="8.4" text-anchor="middle" font-weight="normal" fill="#231f20" stroke="#231f20" stroke-width="0.12" >1</text>
<text x="144.00" y="410.94" font-size="8.4" text-anchor="middle" font-weight="normal" fill="#231f20" stroke="#231f20" stroke-width="0.12" >1</text>
<text x="166.80" y="401.34" font-size="8.4" text-anchor="middle" font-weight="normal" fill="#231f20" stroke="#231f20" stroke-width="0.12" >10</text>
<text x="166.80" y="410.94" font-size="8.4" text-anchor="middle" font-weight="normal" fill="#231f20" stroke="#231f20" stroke-width="0.12" >10</text>
<text x="190.40" y="401.34" font-size="8.4" text-anchor="middle" font-weight="normal" fill="#231f20" stroke="#231f20" stroke-width="0.12" >30</text>
<text x="190.40" y="410.94" font-size="8.4" text-anchor="middle" font-weight="normal" fill="#231f20" stroke="#231f20" stroke-width="0.12" >30</text>
<polyline points="93.90,321.60 117.60,325.31 141.90,337.10 164.50,340.00 187.80,347.41" fill="none" stroke="#3eab55" stroke-width="1.35" stroke-linejoin="round"/>
<polyline points="93.90,321.60 117.60,314.86 141.90,320.93 164.50,335.42 187.80,332.59" fill="none" stroke="#bc2450" stroke-width="1.65" stroke-linejoin="round"/>
<polyline points="93.90,321.60 117.60,323.89 141.90,322.81 164.50,322.41 187.80,336.43" fill="none" stroke="#1f4875" stroke-width="1.65" stroke-linejoin="round"/>
<text transform="translate(142.00,300.52) scale(0.983,1)" font-size="9.5" text-anchor="middle" font-weight="normal" fill="#231f20" stroke="#231f20" stroke-width="0.12" >ALLT-323</text>
<text transform="translate(60.15,346.60) rotate(-90) scale(0.8524,1)" font-size="9.0" text-anchor="middle" fill="#231f20" stroke="#231f20" stroke-width="0.12" font-weight="normal">Relative viability</text>
<text x="85.50" y="401.23" font-size="8.1" text-anchor="end" font-weight="normal" fill="#231f20" stroke="#231f20" stroke-width="0.12" >Dasatinib (nM)</text>
<text x="85.50" y="410.83" font-size="8.1" text-anchor="end" font-weight="normal" fill="#231f20" stroke="#231f20" stroke-width="0.12" >Temsirolimus (nM)</text>
<text x="87.70" y="372.70" font-size="8.2" fill="#231f20" stroke="#231f20" stroke-width="0.12">CI</text>
<text transform="translate(95.60,375.30) scale(0.92,1)" font-size="6.5" fill="#231f20" stroke="#231f20" stroke-width="0.12">ED25</text>
<text x="112.70" y="372.70" font-size="8.2" fill="#231f20" stroke="#231f20" stroke-width="0.12">= 0.13</text>
<line x1="240.20" y1="303.88" x2="240.20" y2="389.80" stroke="#1a1a1a" stroke-width="1.4" stroke-linecap="butt"/>
<line x1="239.50" y1="389.10" x2="358.80" y2="389.10" stroke="#1a1a1a" stroke-width="1.4" stroke-linecap="butt"/>
<line x1="237.20" y1="389.50" x2="240.20" y2="389.50" stroke="#231f20" stroke-width="1.0" stroke-linecap="butt"/>
<text transform="translate(233.60,392.00) scale(0.870,1)" font-size="8.3" text-anchor="end" font-weight="normal" fill="#231f20" stroke="#231f20" stroke-width="0.12" >0</text>
<line x1="237.20" y1="375.50" x2="240.20" y2="375.50" stroke="#231f20" stroke-width="1.0" stroke-linecap="butt"/>
<text transform="translate(233.60,378.49) scale(0.870,1)" font-size="8.3" text-anchor="end" font-weight="normal" fill="#231f20" stroke="#231f20" stroke-width="0.12" >0.2</text>
<line x1="237.20" y1="362.50" x2="240.20" y2="362.50" stroke="#231f20" stroke-width="1.0" stroke-linecap="butt"/>
<text transform="translate(233.60,364.96) scale(0.870,1)" font-size="8.3" text-anchor="end" font-weight="normal" fill="#231f20" stroke="#231f20" stroke-width="0.12" >0.4</text>
<line x1="237.20" y1="348.50" x2="240.20" y2="348.50" stroke="#231f20" stroke-width="1.0" stroke-linecap="butt"/>
<text transform="translate(233.60,351.44) scale(0.870,1)" font-size="8.3" text-anchor="end" font-weight="normal" fill="#231f20" stroke="#231f20" stroke-width="0.12" >0.6</text>
<line x1="237.20" y1="335.50" x2="240.20" y2="335.50" stroke="#231f20" stroke-width="1.0" stroke-linecap="butt"/>
<text transform="translate(233.60,337.92) scale(0.870,1)" font-size="8.3" text-anchor="end" font-weight="normal" fill="#231f20" stroke="#231f20" stroke-width="0.12" >0.8</text>
<line x1="237.20" y1="321.50" x2="240.20" y2="321.50" stroke="#231f20" stroke-width="1.0" stroke-linecap="butt"/>
<text transform="translate(233.60,324.40) scale(0.870,1)" font-size="8.3" text-anchor="end" font-weight="normal" fill="#231f20" stroke="#231f20" stroke-width="0.12" >1</text>
<line x1="237.20" y1="307.50" x2="240.20" y2="307.50" stroke="#231f20" stroke-width="1.0" stroke-linecap="butt"/>
<text transform="translate(233.60,310.88) scale(0.870,1)" font-size="8.3" text-anchor="end" font-weight="normal" fill="#231f20" stroke="#231f20" stroke-width="0.12" >1.2</text>
<line x1="247.50" y1="389.10" x2="247.50" y2="391.90" stroke="#231f20" stroke-width="1.0" stroke-linecap="butt"/>
<line x1="267.50" y1="389.10" x2="267.50" y2="391.90" stroke="#231f20" stroke-width="1.0" stroke-linecap="butt"/>
<line x1="287.50" y1="389.10" x2="287.50" y2="391.90" stroke="#231f20" stroke-width="1.0" stroke-linecap="butt"/>
<line x1="307.50" y1="389.10" x2="307.50" y2="391.90" stroke="#231f20" stroke-width="1.0" stroke-linecap="butt"/>
<line x1="327.50" y1="389.10" x2="327.50" y2="391.90" stroke="#231f20" stroke-width="1.0" stroke-linecap="butt"/>
<line x1="347.50" y1="389.10" x2="347.50" y2="391.90" stroke="#231f20" stroke-width="1.0" stroke-linecap="butt"/>
<text x="247.50" y="401.34" font-size="8.4" text-anchor="middle" font-weight="normal" fill="#231f20" stroke="#231f20" stroke-width="0.12" >0</text>
<text x="247.50" y="411.34" font-size="8.4" text-anchor="middle" font-weight="normal" fill="#231f20" stroke="#231f20" stroke-width="0.12" >0</text>
<text x="267.70" y="401.34" font-size="8.4" text-anchor="middle" font-weight="normal" fill="#231f20" stroke="#231f20" stroke-width="0.12" >0.1</text>
<text x="267.70" y="411.34" font-size="8.4" text-anchor="middle" font-weight="normal" fill="#231f20" stroke="#231f20" stroke-width="0.12" >0.1</text>
<text x="287.30" y="401.34" font-size="8.4" text-anchor="middle" font-weight="normal" fill="#231f20" stroke="#231f20" stroke-width="0.12" >1</text>
<text x="287.30" y="411.34" font-size="8.4" text-anchor="middle" font-weight="normal" fill="#231f20" stroke="#231f20" stroke-width="0.12" >1</text>
<text x="307.10" y="401.34" font-size="8.4" text-anchor="middle" font-weight="normal" fill="#231f20" stroke="#231f20" stroke-width="0.12" >10</text>
<text x="307.10" y="411.34" font-size="8.4" text-anchor="middle" font-weight="normal" fill="#231f20" stroke="#231f20" stroke-width="0.12" >10</text>
<text x="327.40" y="401.34" font-size="8.4" text-anchor="middle" font-weight="normal" fill="#231f20" stroke="#231f20" stroke-width="0.12" >30</text>
<text x="327.40" y="411.34" font-size="8.4" text-anchor="middle" font-weight="normal" fill="#231f20" stroke="#231f20" stroke-width="0.12" >30</text>
<text x="347.60" y="401.34" font-size="8.4" text-anchor="middle" font-weight="normal" fill="#231f20" stroke="#231f20" stroke-width="0.12" >100</text>
<text x="347.60" y="411.34" font-size="8.4" text-anchor="middle" font-weight="normal" fill="#231f20" stroke="#231f20" stroke-width="0.12" >100</text>
<polyline points="247.70,321.50 267.70,320.82 287.70,326.23 307.70,363.41 327.70,370.85 347.70,366.79" fill="none" stroke="#bc2450" stroke-width="1.65" stroke-linejoin="round"/>
<polyline points="247.70,321.50 267.70,321.50 287.70,352.26 307.70,353.95 327.70,365.44 347.70,366.79" fill="none" stroke="#1f4875" stroke-width="1.65" stroke-linejoin="round"/>
<polyline points="247.70,321.50 267.70,325.56 287.70,347.19 307.70,376.93 327.70,378.28 347.70,380.99" fill="none" stroke="#3eab55" stroke-width="1.35" stroke-linejoin="round"/>
<text transform="translate(298.55,300.52) scale(0.970,1)" font-size="9.5" text-anchor="middle" font-weight="normal" fill="#231f20" stroke="#231f20" stroke-width="0.12" >ALLT-379</text>
<text x="244.00" y="372.70" font-size="8.2" fill="#231f20" stroke="#231f20" stroke-width="0.12">CI</text>
<text transform="translate(251.90,375.30) scale(0.92,1)" font-size="6.5" fill="#231f20" stroke="#231f20" stroke-width="0.12">ED25</text>
<text x="269.00" y="372.70" font-size="8.2" fill="#231f20" stroke="#231f20" stroke-width="0.12">= 0.28</text>
<line x1="83.75" y1="444.38" x2="83.75" y2="531.50" stroke="#1a1a1a" stroke-width="1.4" stroke-linecap="butt"/>
<line x1="83.05" y1="530.80" x2="201.70" y2="530.80" stroke="#1a1a1a" stroke-width="1.4" stroke-linecap="butt"/>
<line x1="80.75" y1="530.50" x2="83.75" y2="530.50" stroke="#231f20" stroke-width="1.0" stroke-linecap="butt"/>
<text transform="translate(77.15,533.70) scale(0.870,1)" font-size="8.3" text-anchor="end" font-weight="normal" fill="#231f20" stroke="#231f20" stroke-width="0.12" >0</text>
<line x1="80.75" y1="517.50" x2="83.75" y2="517.50" stroke="#231f20" stroke-width="1.0" stroke-linecap="butt"/>
<text transform="translate(77.15,519.98) scale(0.870,1)" font-size="8.3" text-anchor="end" font-weight="normal" fill="#231f20" stroke="#231f20" stroke-width="0.12" >0.2</text>
<line x1="80.75" y1="503.50" x2="83.75" y2="503.50" stroke="#231f20" stroke-width="1.0" stroke-linecap="butt"/>
<text transform="translate(77.15,506.26) scale(0.870,1)" font-size="8.3" text-anchor="end" font-weight="normal" fill="#231f20" stroke="#231f20" stroke-width="0.12" >0.4</text>
<line x1="80.75" y1="489.50" x2="83.75" y2="489.50" stroke="#231f20" stroke-width="1.0" stroke-linecap="butt"/>
<text transform="translate(77.15,492.54) scale(0.870,1)" font-size="8.3" text-anchor="end" font-weight="normal" fill="#231f20" stroke="#231f20" stroke-width="0.12" >0.6</text>
<line x1="80.75" y1="475.50" x2="83.75" y2="475.50" stroke="#231f20" stroke-width="1.0" stroke-linecap="butt"/>
<text transform="translate(77.15,478.82) scale(0.870,1)" font-size="8.3" text-anchor="end" font-weight="normal" fill="#231f20" stroke="#231f20" stroke-width="0.12" >0.8</text>
<line x1="80.75" y1="462.50" x2="83.75" y2="462.50" stroke="#231f20" stroke-width="1.0" stroke-linecap="butt"/>
<text transform="translate(77.15,465.10) scale(0.870,1)" font-size="8.3" text-anchor="end" font-weight="normal" fill="#231f20" stroke="#231f20" stroke-width="0.12" >1</text>
<line x1="80.75" y1="448.50" x2="83.75" y2="448.50" stroke="#231f20" stroke-width="1.0" stroke-linecap="butt"/>
<text transform="translate(77.15,451.38) scale(0.870,1)" font-size="8.3" text-anchor="end" font-weight="normal" fill="#231f20" stroke="#231f20" stroke-width="0.12" >1.2</text>
<line x1="92.50" y1="530.80" x2="92.50" y2="533.60" stroke="#231f20" stroke-width="1.0" stroke-linecap="butt"/>
<line x1="115.50" y1="530.80" x2="115.50" y2="533.60" stroke="#231f20" stroke-width="1.0" stroke-linecap="butt"/>
<line x1="138.50" y1="530.80" x2="138.50" y2="533.60" stroke="#231f20" stroke-width="1.0" stroke-linecap="butt"/>
<line x1="162.50" y1="530.80" x2="162.50" y2="533.60" stroke="#231f20" stroke-width="1.0" stroke-linecap="butt"/>
<line x1="186.50" y1="530.80" x2="186.50" y2="533.60" stroke="#231f20" stroke-width="1.0" stroke-linecap="butt"/>
<text x="92.70" y="544.24" font-size="8.4" text-anchor="middle" font-weight="normal" fill="#231f20" stroke="#231f20" stroke-width="0.12" >0</text>
<text x="92.70" y="553.54" font-size="8.4" text-anchor="middle" font-weight="normal" fill="#231f20" stroke="#231f20" stroke-width="0.12" >0</text>
<text x="115.80" y="544.24" font-size="8.4" text-anchor="middle" font-weight="normal" fill="#231f20" stroke="#231f20" stroke-width="0.12" >0.1</text>
<text x="115.80" y="553.54" font-size="8.4" text-anchor="middle" font-weight="normal" fill="#231f20" stroke="#231f20" stroke-width="0.12" >0.1</text>
<text x="138.90" y="544.24" font-size="8.4" text-anchor="middle" font-weight="normal" fill="#231f20" stroke="#231f20" stroke-width="0.12" >1</text>
<text x="138.90" y="553.54" font-size="8.4" text-anchor="middle" font-weight="normal" fill="#231f20" stroke="#231f20" stroke-width="0.12" >1</text>
<text x="162.70" y="544.24" font-size="8.4" text-anchor="middle" font-weight="normal" fill="#231f20" stroke="#231f20" stroke-width="0.12" >10</text>
<text x="162.70" y="553.54" font-size="8.4" text-anchor="middle" font-weight="normal" fill="#231f20" stroke="#231f20" stroke-width="0.12" >10</text>
<text x="186.20" y="544.24" font-size="8.4" text-anchor="middle" font-weight="normal" fill="#231f20" stroke="#231f20" stroke-width="0.12" >30</text>
<text x="186.20" y="553.54" font-size="8.4" text-anchor="middle" font-weight="normal" fill="#231f20" stroke="#231f20" stroke-width="0.12" >30</text>
<polyline points="93.80,462.20 116.90,469.75 140.00,491.70 164.00,509.19 187.00,507.13" fill="none" stroke="#3eab55" stroke-width="1.35" stroke-linejoin="round"/>
<polyline points="93.80,462.20 116.90,460.83 140.00,479.01 164.00,488.95 187.00,497.19" fill="none" stroke="#bc2450" stroke-width="1.65" stroke-linejoin="round"/>
<polyline points="93.80,462.20 116.90,464.60 140.00,470.77 164.00,493.07 187.00,497.19" fill="none" stroke="#1f4875" stroke-width="1.65" stroke-linejoin="round"/>
<text transform="translate(142.00,442.27) scale(0.983,1)" font-size="9.5" text-anchor="middle" font-weight="normal" fill="#231f20" stroke="#231f20" stroke-width="0.12" >ALLT-373</text>
<text transform="translate(60.15,488.20) rotate(-90) scale(0.8524,1)" font-size="9.0" text-anchor="middle" fill="#231f20" stroke="#231f20" stroke-width="0.12" font-weight="normal">Relative viability</text>
<text x="85.50" y="544.13" font-size="8.1" text-anchor="end" font-weight="normal" fill="#231f20" stroke="#231f20" stroke-width="0.12" >Dasatinib (nM)</text>
<text x="85.50" y="553.44" font-size="8.1" text-anchor="end" font-weight="normal" fill="#231f20" stroke="#231f20" stroke-width="0.12" >Temsirolimus (nM)</text>
<text x="88.30" y="515.00" font-size="8.2" fill="#231f20" stroke="#231f20" stroke-width="0.12">CI</text>
<text transform="translate(96.20,517.60) scale(0.92,1)" font-size="6.5" fill="#231f20" stroke="#231f20" stroke-width="0.12">ED25</text>
<text x="113.30" y="515.00" font-size="8.2" fill="#231f20" stroke="#231f20" stroke-width="0.12">= 0.18</text>
<line x1="240.20" y1="445.28" x2="240.20" y2="532.40" stroke="#1a1a1a" stroke-width="1.4" stroke-linecap="butt"/>
<line x1="239.50" y1="531.70" x2="358.80" y2="531.70" stroke="#1a1a1a" stroke-width="1.4" stroke-linecap="butt"/>
<line x1="237.20" y1="531.50" x2="240.20" y2="531.50" stroke="#231f20" stroke-width="1.0" stroke-linecap="butt"/>
<text transform="translate(233.60,534.61) scale(0.870,1)" font-size="8.3" text-anchor="end" font-weight="normal" fill="#231f20" stroke="#231f20" stroke-width="0.12" >0</text>
<line x1="237.20" y1="517.50" x2="240.20" y2="517.50" stroke="#231f20" stroke-width="1.0" stroke-linecap="butt"/>
<text transform="translate(233.60,520.88) scale(0.870,1)" font-size="8.3" text-anchor="end" font-weight="normal" fill="#231f20" stroke="#231f20" stroke-width="0.12" >0.2</text>
<line x1="237.20" y1="504.50" x2="240.20" y2="504.50" stroke="#231f20" stroke-width="1.0" stroke-linecap="butt"/>
<text transform="translate(233.60,507.17) scale(0.870,1)" font-size="8.3" text-anchor="end" font-weight="normal" fill="#231f20" stroke="#231f20" stroke-width="0.12" >0.4</text>
<line x1="237.20" y1="490.50" x2="240.20" y2="490.50" stroke="#231f20" stroke-width="1.0" stroke-linecap="butt"/>
<text transform="translate(233.60,493.44) scale(0.870,1)" font-size="8.3" text-anchor="end" font-weight="normal" fill="#231f20" stroke="#231f20" stroke-width="0.12" >0.6</text>
<line x1="237.20" y1="476.50" x2="240.20" y2="476.50" stroke="#231f20" stroke-width="1.0" stroke-linecap="butt"/>
<text transform="translate(233.60,479.73) scale(0.870,1)" font-size="8.3" text-anchor="end" font-weight="normal" fill="#231f20" stroke="#231f20" stroke-width="0.12" >0.8</text>
<line x1="237.20" y1="463.50" x2="240.20" y2="463.50" stroke="#231f20" stroke-width="1.0" stroke-linecap="butt"/>
<text transform="translate(233.60,466.00) scale(0.870,1)" font-size="8.3" text-anchor="end" font-weight="normal" fill="#231f20" stroke="#231f20" stroke-width="0.12" >1</text>
<line x1="237.20" y1="449.50" x2="240.20" y2="449.50" stroke="#231f20" stroke-width="1.0" stroke-linecap="butt"/>
<text transform="translate(233.60,452.28) scale(0.870,1)" font-size="8.3" text-anchor="end" font-weight="normal" fill="#231f20" stroke="#231f20" stroke-width="0.12" >1.2</text>
<line x1="250.50" y1="531.70" x2="250.50" y2="534.50" stroke="#231f20" stroke-width="1.0" stroke-linecap="butt"/>
<line x1="271.50" y1="531.70" x2="271.50" y2="534.50" stroke="#231f20" stroke-width="1.0" stroke-linecap="butt"/>
<line x1="290.50" y1="531.70" x2="290.50" y2="534.50" stroke="#231f20" stroke-width="1.0" stroke-linecap="butt"/>
<line x1="310.50" y1="531.70" x2="310.50" y2="534.50" stroke="#231f20" stroke-width="1.0" stroke-linecap="butt"/>
<line x1="330.50" y1="531.70" x2="330.50" y2="534.50" stroke="#231f20" stroke-width="1.0" stroke-linecap="butt"/>
<line x1="350.50" y1="531.70" x2="350.50" y2="534.50" stroke="#231f20" stroke-width="1.0" stroke-linecap="butt"/>
<text x="250.80" y="544.14" font-size="8.4" text-anchor="middle" font-weight="normal" fill="#231f20" stroke="#231f20" stroke-width="0.12" >0</text>
<text x="250.80" y="553.84" font-size="8.4" text-anchor="middle" font-weight="normal" fill="#231f20" stroke="#231f20" stroke-width="0.12" >0</text>
<text x="271.10" y="544.14" font-size="8.4" text-anchor="middle" font-weight="normal" fill="#231f20" stroke="#231f20" stroke-width="0.12" >0.1</text>
<text x="271.10" y="553.84" font-size="8.4" text-anchor="middle" font-weight="normal" fill="#231f20" stroke="#231f20" stroke-width="0.12" >0.1</text>
<text x="290.90" y="544.14" font-size="8.4" text-anchor="middle" font-weight="normal" fill="#231f20" stroke="#231f20" stroke-width="0.12" >1</text>
<text x="290.90" y="553.84" font-size="8.4" text-anchor="middle" font-weight="normal" fill="#231f20" stroke="#231f20" stroke-width="0.12" >1</text>
<text x="310.70" y="544.14" font-size="8.4" text-anchor="middle" font-weight="normal" fill="#231f20" stroke="#231f20" stroke-width="0.12" >10</text>
<text x="310.70" y="553.84" font-size="8.4" text-anchor="middle" font-weight="normal" fill="#231f20" stroke="#231f20" stroke-width="0.12" >10</text>
<text x="330.70" y="544.14" font-size="8.4" text-anchor="middle" font-weight="normal" fill="#231f20" stroke="#231f20" stroke-width="0.12" >30</text>
<text x="330.70" y="553.84" font-size="8.4" text-anchor="middle" font-weight="normal" fill="#231f20" stroke="#231f20" stroke-width="0.12" >30</text>
<text x="350.30" y="544.14" font-size="8.4" text-anchor="middle" font-weight="normal" fill="#231f20" stroke="#231f20" stroke-width="0.12" >100</text>
<text x="350.30" y="553.84" font-size="8.4" text-anchor="middle" font-weight="normal" fill="#231f20" stroke="#231f20" stroke-width="0.12" >100</text>
<polyline points="248.60,463.10 269.00,465.16 289.20,473.73 309.60,481.48 329.20,490.54 349.20,489.51" fill="none" stroke="#bc2450" stroke-width="1.65" stroke-linejoin="round"/>
<polyline points="248.60,463.51 269.00,464.88 289.20,466.87 309.60,491.43 329.20,494.52 349.20,496.65" fill="none" stroke="#1f4875" stroke-width="1.65" stroke-linejoin="round"/>
<polyline points="248.60,463.10 269.00,465.50 289.20,473.39 309.60,499.12 329.20,503.30 349.20,505.22" fill="none" stroke="#3eab55" stroke-width="1.35" stroke-linejoin="round"/>
<text transform="translate(298.25,442.07) scale(0.974,1)" font-size="9.5" text-anchor="middle" font-weight="normal" fill="#231f20" stroke="#231f20" stroke-width="0.12" >ALLT-6787</text>
<text x="244.00" y="515.00" font-size="8.2" fill="#231f20" stroke="#231f20" stroke-width="0.12">CI</text>
<text transform="translate(251.90,517.60) scale(0.92,1)" font-size="6.5" fill="#231f20" stroke="#231f20" stroke-width="0.12">ED25</text>
<text x="269.00" y="515.00" font-size="8.2" fill="#231f20" stroke="#231f20" stroke-width="0.12">= 0.62</text>
<line x1="84.00" y1="590.84" x2="84.00" y2="677.60" stroke="#1a1a1a" stroke-width="1.4" stroke-linecap="butt"/>
<line x1="83.30" y1="676.90" x2="201.70" y2="676.90" stroke="#1a1a1a" stroke-width="1.4" stroke-linecap="butt"/>
<line x1="81.00" y1="676.50" x2="84.00" y2="676.50" stroke="#231f20" stroke-width="1.0" stroke-linecap="butt"/>
<text transform="translate(77.40,679.80) scale(0.870,1)" font-size="8.3" text-anchor="end" font-weight="normal" fill="#231f20" stroke="#231f20" stroke-width="0.12" >0</text>
<line x1="81.00" y1="663.50" x2="84.00" y2="663.50" stroke="#231f20" stroke-width="1.0" stroke-linecap="butt"/>
<text transform="translate(77.40,666.14) scale(0.870,1)" font-size="8.3" text-anchor="end" font-weight="normal" fill="#231f20" stroke="#231f20" stroke-width="0.12" >0.2</text>
<line x1="81.00" y1="649.50" x2="84.00" y2="649.50" stroke="#231f20" stroke-width="1.0" stroke-linecap="butt"/>
<text transform="translate(77.40,652.49) scale(0.870,1)" font-size="8.3" text-anchor="end" font-weight="normal" fill="#231f20" stroke="#231f20" stroke-width="0.12" >0.4</text>
<line x1="81.00" y1="635.50" x2="84.00" y2="635.50" stroke="#231f20" stroke-width="1.0" stroke-linecap="butt"/>
<text transform="translate(77.40,638.82) scale(0.870,1)" font-size="8.3" text-anchor="end" font-weight="normal" fill="#231f20" stroke="#231f20" stroke-width="0.12" >0.6</text>
<line x1="81.00" y1="622.50" x2="84.00" y2="622.50" stroke="#231f20" stroke-width="1.0" stroke-linecap="butt"/>
<text transform="translate(77.40,625.16) scale(0.870,1)" font-size="8.3" text-anchor="end" font-weight="normal" fill="#231f20" stroke="#231f20" stroke-width="0.12" >0.8</text>
<line x1="81.00" y1="608.50" x2="84.00" y2="608.50" stroke="#231f20" stroke-width="1.0" stroke-linecap="butt"/>
<text transform="translate(77.40,611.50) scale(0.870,1)" font-size="8.3" text-anchor="end" font-weight="normal" fill="#231f20" stroke="#231f20" stroke-width="0.12" >1</text>
<line x1="81.00" y1="594.50" x2="84.00" y2="594.50" stroke="#231f20" stroke-width="1.0" stroke-linecap="butt"/>
<text transform="translate(77.40,597.85) scale(0.870,1)" font-size="8.3" text-anchor="end" font-weight="normal" fill="#231f20" stroke="#231f20" stroke-width="0.12" >1.2</text>
<line x1="92.50" y1="676.90" x2="92.50" y2="679.70" stroke="#231f20" stroke-width="1.0" stroke-linecap="butt"/>
<line x1="112.50" y1="676.90" x2="112.50" y2="679.70" stroke="#231f20" stroke-width="1.0" stroke-linecap="butt"/>
<line x1="131.50" y1="676.90" x2="131.50" y2="679.70" stroke="#231f20" stroke-width="1.0" stroke-linecap="butt"/>
<line x1="151.50" y1="676.90" x2="151.50" y2="679.70" stroke="#231f20" stroke-width="1.0" stroke-linecap="butt"/>
<line x1="170.50" y1="676.90" x2="170.50" y2="679.70" stroke="#231f20" stroke-width="1.0" stroke-linecap="butt"/>
<line x1="189.50" y1="676.90" x2="189.50" y2="679.70" stroke="#231f20" stroke-width="1.0" stroke-linecap="butt"/>
<text x="92.70" y="690.14" font-size="8.4" text-anchor="middle" font-weight="normal" fill="#231f20" stroke="#231f20" stroke-width="0.12" >0</text>
<text x="92.70" y="699.14" font-size="8.4" text-anchor="middle" font-weight="normal" fill="#231f20" stroke="#231f20" stroke-width="0.12" >0</text>
<text x="112.30" y="690.14" font-size="8.4" text-anchor="middle" font-weight="normal" fill="#231f20" stroke="#231f20" stroke-width="0.12" >0.1</text>
<text x="112.30" y="699.14" font-size="8.4" text-anchor="middle" font-weight="normal" fill="#231f20" stroke="#231f20" stroke-width="0.12" >0.1</text>
<text x="131.30" y="690.14" font-size="8.4" text-anchor="middle" font-weight="normal" fill="#231f20" stroke="#231f20" stroke-width="0.12" >1</text>
<text x="131.30" y="699.14" font-size="8.4" text-anchor="middle" font-weight="normal" fill="#231f20" stroke="#231f20" stroke-width="0.12" >1</text>
<text x="151.10" y="690.14" font-size="8.4" text-anchor="middle" font-weight="normal" fill="#231f20" stroke="#231f20" stroke-width="0.12" >10</text>
<text x="151.10" y="699.14" font-size="8.4" text-anchor="middle" font-weight="normal" fill="#231f20" stroke="#231f20" stroke-width="0.12" >10</text>
<text x="170.50" y="690.14" font-size="8.4" text-anchor="middle" font-weight="normal" fill="#231f20" stroke="#231f20" stroke-width="0.12" >30</text>
<text x="170.50" y="699.14" font-size="8.4" text-anchor="middle" font-weight="normal" fill="#231f20" stroke="#231f20" stroke-width="0.12" >30</text>
<text x="189.70" y="690.14" font-size="8.4" text-anchor="middle" font-weight="normal" fill="#231f20" stroke="#231f20" stroke-width="0.12" >100</text>
<text x="189.70" y="699.14" font-size="8.4" text-anchor="middle" font-weight="normal" fill="#231f20" stroke="#231f20" stroke-width="0.12" >100</text>
<polyline points="92.30,608.60 112.30,614.27 130.50,607.51 151.40,618.09 171.80,614.47 191.50,623.63" fill="none" stroke="#bc2450" stroke-width="1.65" stroke-linejoin="round"/>
<polyline points="92.30,608.60 112.30,606.55 130.50,609.62 151.40,620.21 171.80,612.70 191.50,618.50" fill="none" stroke="#3eab55" stroke-width="1.35" stroke-linejoin="round"/>
<polyline points="92.30,608.60 112.30,606.55 130.50,607.92 151.40,617.48 171.80,616.11 191.50,623.63" fill="none" stroke="#1f4875" stroke-width="1.65" stroke-linejoin="round"/>
<text transform="translate(141.60,588.68) scale(0.954,1)" font-size="9.5" text-anchor="middle" font-weight="normal" fill="#231f20" stroke="#231f20" stroke-width="0.12" >ALLT-5221</text>
<text transform="translate(60.15,633.90) rotate(-90) scale(0.8524,1)" font-size="9.0" text-anchor="middle" fill="#231f20" stroke="#231f20" stroke-width="0.12" font-weight="normal">Relative viability</text>
<text x="85.50" y="690.04" font-size="8.1" text-anchor="end" font-weight="normal" fill="#231f20" stroke="#231f20" stroke-width="0.12" >Dasatinib (nM)</text>
<text x="85.50" y="699.04" font-size="8.1" text-anchor="end" font-weight="normal" fill="#231f20" stroke="#231f20" stroke-width="0.12" >Temsirolimus (nM)</text>
<text x="88.30" y="661.10" font-size="8.2" fill="#231f20" stroke="#231f20" stroke-width="0.12">CI</text>
<text transform="translate(96.20,663.70) scale(0.92,1)" font-size="6.5" fill="#231f20" stroke="#231f20" stroke-width="0.12">ED25</text>
<text x="113.30" y="661.10" font-size="8.2" fill="#231f20" stroke="#231f20" stroke-width="0.12">= 1.34</text>
<line x1="240.20" y1="591.56" x2="240.20" y2="677.60" stroke="#1a1a1a" stroke-width="1.4" stroke-linecap="butt"/>
<line x1="239.50" y1="676.90" x2="358.80" y2="676.90" stroke="#1a1a1a" stroke-width="1.4" stroke-linecap="butt"/>
<line x1="237.20" y1="676.50" x2="240.20" y2="676.50" stroke="#231f20" stroke-width="1.0" stroke-linecap="butt"/>
<text transform="translate(233.60,679.80) scale(0.870,1)" font-size="8.3" text-anchor="end" font-weight="normal" fill="#231f20" stroke="#231f20" stroke-width="0.12" >0</text>
<line x1="237.20" y1="663.50" x2="240.20" y2="663.50" stroke="#231f20" stroke-width="1.0" stroke-linecap="butt"/>
<text transform="translate(233.60,666.26) scale(0.870,1)" font-size="8.3" text-anchor="end" font-weight="normal" fill="#231f20" stroke="#231f20" stroke-width="0.12" >0.2</text>
<line x1="237.20" y1="649.50" x2="240.20" y2="649.50" stroke="#231f20" stroke-width="1.0" stroke-linecap="butt"/>
<text transform="translate(233.60,652.73) scale(0.870,1)" font-size="8.3" text-anchor="end" font-weight="normal" fill="#231f20" stroke="#231f20" stroke-width="0.12" >0.4</text>
<line x1="237.20" y1="636.50" x2="240.20" y2="636.50" stroke="#231f20" stroke-width="1.0" stroke-linecap="butt"/>
<text transform="translate(233.60,639.18) scale(0.870,1)" font-size="8.3" text-anchor="end" font-weight="normal" fill="#231f20" stroke="#231f20" stroke-width="0.12" >0.6</text>
<line x1="237.20" y1="622.50" x2="240.20" y2="622.50" stroke="#231f20" stroke-width="1.0" stroke-linecap="butt"/>
<text transform="translate(233.60,625.64) scale(0.870,1)" font-size="8.3" text-anchor="end" font-weight="normal" fill="#231f20" stroke="#231f20" stroke-width="0.12" >0.8</text>
<line x1="237.20" y1="609.50" x2="240.20" y2="609.50" stroke="#231f20" stroke-width="1.0" stroke-linecap="butt"/>
<text transform="translate(233.60,612.11) scale(0.870,1)" font-size="8.3" text-anchor="end" font-weight="normal" fill="#231f20" stroke="#231f20" stroke-width="0.12" >1</text>
<line x1="237.20" y1="595.50" x2="240.20" y2="595.50" stroke="#231f20" stroke-width="1.0" stroke-linecap="butt"/>
<text transform="translate(233.60,598.57) scale(0.870,1)" font-size="8.3" text-anchor="end" font-weight="normal" fill="#231f20" stroke="#231f20" stroke-width="0.12" >1.2</text>
<line x1="251.50" y1="676.90" x2="251.50" y2="679.70" stroke="#231f20" stroke-width="1.0" stroke-linecap="butt"/>
<line x1="274.50" y1="676.90" x2="274.50" y2="679.70" stroke="#231f20" stroke-width="1.0" stroke-linecap="butt"/>
<line x1="297.50" y1="676.90" x2="297.50" y2="679.70" stroke="#231f20" stroke-width="1.0" stroke-linecap="butt"/>
<line x1="320.50" y1="676.90" x2="320.50" y2="679.70" stroke="#231f20" stroke-width="1.0" stroke-linecap="butt"/>
<line x1="343.50" y1="676.90" x2="343.50" y2="679.70" stroke="#231f20" stroke-width="1.0" stroke-linecap="butt"/>
<text x="251.00" y="689.94" font-size="8.4" text-anchor="middle" font-weight="normal" fill="#231f20" stroke="#231f20" stroke-width="0.12" >0</text>
<text x="251.00" y="699.54" font-size="8.4" text-anchor="middle" font-weight="normal" fill="#231f20" stroke="#231f20" stroke-width="0.12" >0</text>
<text x="274.20" y="689.94" font-size="8.4" text-anchor="middle" font-weight="normal" fill="#231f20" stroke="#231f20" stroke-width="0.12" >1</text>
<text x="274.20" y="699.54" font-size="8.4" text-anchor="middle" font-weight="normal" fill="#231f20" stroke="#231f20" stroke-width="0.12" >1</text>
<text x="297.60" y="689.94" font-size="8.4" text-anchor="middle" font-weight="normal" fill="#231f20" stroke="#231f20" stroke-width="0.12" >10</text>
<text x="297.60" y="699.54" font-size="8.4" text-anchor="middle" font-weight="normal" fill="#231f20" stroke="#231f20" stroke-width="0.12" >10</text>
<text x="320.70" y="689.94" font-size="8.4" text-anchor="middle" font-weight="normal" fill="#231f20" stroke="#231f20" stroke-width="0.12" >30</text>
<text x="320.70" y="699.54" font-size="8.4" text-anchor="middle" font-weight="normal" fill="#231f20" stroke="#231f20" stroke-width="0.12" >30</text>
<text x="343.40" y="689.94" font-size="8.4" text-anchor="middle" font-weight="normal" fill="#231f20" stroke="#231f20" stroke-width="0.12" >100</text>
<text x="343.40" y="699.54" font-size="8.4" text-anchor="middle" font-weight="normal" fill="#231f20" stroke="#231f20" stroke-width="0.12" >100</text>
<polyline points="249.40,610.22 275.80,618.34 297.80,622.40 320.20,635.60 343.20,645.42" fill="none" stroke="#3eab55" stroke-width="1.35" stroke-linejoin="round"/>
<polyline points="249.40,610.22 275.80,624.09 297.80,629.51 320.20,633.23 343.20,635.60" fill="none" stroke="#1f4875" stroke-width="1.65" stroke-linejoin="round"/>
<polyline points="249.40,610.22 275.80,617.32 297.80,626.80 320.20,629.51 343.20,643.39" fill="none" stroke="#bc2450" stroke-width="1.65" stroke-linejoin="round"/>
<text transform="translate(298.25,588.03) scale(0.974,1)" font-size="9.5" text-anchor="middle" font-weight="normal" fill="#231f20" stroke="#231f20" stroke-width="0.12" >ALLT-7891</text>
<text x="244.00" y="661.10" font-size="8.2" fill="#231f20" stroke="#231f20" stroke-width="0.12">CI</text>
<text transform="translate(251.90,663.70) scale(0.92,1)" font-size="6.5" fill="#231f20" stroke="#231f20" stroke-width="0.12">ED25</text>
<text x="269.00" y="661.10" font-size="8.2" fill="#231f20" stroke="#231f20" stroke-width="0.12">= 3.1</text>
<line x1="130.40" y1="420.10" x2="143.50" y2="420.10" stroke="#bc2450" stroke-width="1.6" stroke-linecap="butt"/>
<text x="147.00" y="422.80" font-size="7.7" text-anchor="start" font-weight="normal" fill="#231f20" stroke="#231f20" stroke-width="0.12" >Dasatinib</text>
<line x1="189.00" y1="420.10" x2="202.00" y2="420.10" stroke="#1f4875" stroke-width="1.6" stroke-linecap="butt"/>
<text x="206.30" y="422.76" font-size="7.6" text-anchor="start" font-weight="normal" fill="#231f20" stroke="#231f20" stroke-width="0.12" >Temsirolimus</text>
<line x1="261.70" y1="420.10" x2="274.00" y2="420.10" stroke="#3eab55" stroke-width="1.6" stroke-linecap="butt"/>
<text x="278.20" y="422.80" font-size="7.7" text-anchor="start" font-weight="normal" fill="#231f20" stroke="#231f20" stroke-width="0.12" >Combo</text>
<line x1="130.40" y1="563.00" x2="143.50" y2="563.00" stroke="#bc2450" stroke-width="1.6" stroke-linecap="butt"/>
<text x="147.00" y="565.70" font-size="7.7" text-anchor="start" font-weight="normal" fill="#231f20" stroke="#231f20" stroke-width="0.12" >Dasatinib</text>
<line x1="189.00" y1="563.00" x2="202.00" y2="563.00" stroke="#1f4875" stroke-width="1.6" stroke-linecap="butt"/>
<text x="206.30" y="565.66" font-size="7.6" text-anchor="start" font-weight="normal" fill="#231f20" stroke="#231f20" stroke-width="0.12" >Temsirolimus</text>
<line x1="261.70" y1="563.00" x2="274.00" y2="563.00" stroke="#3eab55" stroke-width="1.6" stroke-linecap="butt"/>
<text x="278.20" y="565.70" font-size="7.7" text-anchor="start" font-weight="normal" fill="#231f20" stroke="#231f20" stroke-width="0.12" >Combo</text>
<line x1="130.40" y1="709.60" x2="143.50" y2="709.60" stroke="#bc2450" stroke-width="1.6" stroke-linecap="butt"/>
<text x="147.00" y="712.30" font-size="7.7" text-anchor="start" font-weight="normal" fill="#231f20" stroke="#231f20" stroke-width="0.12" >Dasatinib</text>
<line x1="189.00" y1="709.60" x2="202.00" y2="709.60" stroke="#1f4875" stroke-width="1.6" stroke-linecap="butt"/>
<text x="206.30" y="712.26" font-size="7.6" text-anchor="start" font-weight="normal" fill="#231f20" stroke="#231f20" stroke-width="0.12" >Temsirolimus</text>
<line x1="261.70" y1="709.60" x2="274.00" y2="709.60" stroke="#3eab55" stroke-width="1.6" stroke-linecap="butt"/>
<text x="278.20" y="712.30" font-size="7.7" text-anchor="start" font-weight="normal" fill="#231f20" stroke="#231f20" stroke-width="0.12" >Combo</text>
<rect x="439.20" y="49.90" width="13.9" height="54.70" fill="#a690bc"/>
<rect x="459.80" y="64.05" width="13.9" height="40.55" fill="#e2808f"/>
<rect x="480.20" y="55.79" width="13.9" height="48.81" fill="#84a6c7"/>
<rect x="500.80" y="74.38" width="13.9" height="30.22" fill="#97d6a0"/>
<line x1="446.50" y1="41.79" x2="446.50" y2="58.01" stroke="#231f20" stroke-width="1.0" stroke-linecap="butt"/>
<line x1="442.95" y1="41.79" x2="449.35" y2="41.79" stroke="#231f20" stroke-width="1.3" stroke-linecap="butt"/>
<line x1="442.95" y1="58.01" x2="449.35" y2="58.01" stroke="#231f20" stroke-width="1.3" stroke-linecap="butt"/>
<circle cx="446.15" cy="36.29" r="1.75" fill="#4b2670"/>
<circle cx="446.15" cy="50.28" r="1.75" fill="#4b2670"/>
<circle cx="446.15" cy="64.51" r="1.75" fill="#4b2670"/>
<line x1="466.50" y1="54.87" x2="466.50" y2="73.23" stroke="#231f20" stroke-width="1.0" stroke-linecap="butt"/>
<line x1="463.55" y1="54.87" x2="469.95" y2="54.87" stroke="#231f20" stroke-width="1.3" stroke-linecap="butt"/>
<line x1="463.55" y1="73.23" x2="469.95" y2="73.23" stroke="#231f20" stroke-width="1.3" stroke-linecap="butt"/>
<circle cx="461.65" cy="54.19" r="1.75" fill="#c8163c"/>
<circle cx="472.05" cy="55.64" r="1.75" fill="#c8163c"/>
<circle cx="466.75" cy="82.11" r="1.75" fill="#c8163c"/>
<line x1="487.50" y1="51.74" x2="487.50" y2="59.85" stroke="#231f20" stroke-width="1.0" stroke-linecap="butt"/>
<line x1="483.95" y1="51.74" x2="490.35" y2="51.74" stroke="#231f20" stroke-width="1.3" stroke-linecap="butt"/>
<line x1="483.95" y1="59.85" x2="490.35" y2="59.85" stroke="#231f20" stroke-width="1.3" stroke-linecap="butt"/>
<circle cx="487.15" cy="49.52" r="1.75" fill="#1d4f8c"/>
<circle cx="487.15" cy="53.80" r="1.75" fill="#1d4f8c"/>
<circle cx="487.15" cy="63.67" r="1.75" fill="#1d4f8c"/>
<line x1="507.50" y1="72.93" x2="507.50" y2="75.84" stroke="#231f20" stroke-width="1.0" stroke-linecap="butt"/>
<line x1="504.55" y1="72.93" x2="510.95" y2="72.93" stroke="#231f20" stroke-width="1.3" stroke-linecap="butt"/>
<line x1="504.55" y1="75.84" x2="510.95" y2="75.84" stroke="#231f20" stroke-width="1.3" stroke-linecap="butt"/>
<circle cx="502.25" cy="73.62" r="1.75" fill="#3fa552"/>
<circle cx="513.25" cy="74.00" r="1.75" fill="#3fa552"/>
<circle cx="507.75" cy="76.29" r="1.75" fill="#3fa552"/>
<line x1="432.50" y1="24.50" x2="432.50" y2="105.30" stroke="#1a1a1a" stroke-width="1.4" stroke-linecap="butt"/>
<line x1="431.80" y1="104.60" x2="516.00" y2="104.60" stroke="#1a1a1a" stroke-width="1.4" stroke-linecap="butt"/>
<line x1="429.50" y1="104.50" x2="432.50" y2="104.50" stroke="#231f20" stroke-width="1.0" stroke-linecap="butt"/>
<text transform="translate(426.20,107.50) scale(0.840,1)" font-size="8.3" text-anchor="end" font-weight="normal" fill="#231f20" stroke="#231f20" stroke-width="0.12" >0</text>
<line x1="429.50" y1="89.50" x2="432.50" y2="89.50" stroke="#231f20" stroke-width="1.0" stroke-linecap="butt"/>
<text transform="translate(426.20,92.20) scale(0.840,1)" font-size="8.3" text-anchor="end" font-weight="normal" fill="#231f20" stroke="#231f20" stroke-width="0.12" >20</text>
<line x1="429.50" y1="74.50" x2="432.50" y2="74.50" stroke="#231f20" stroke-width="1.0" stroke-linecap="butt"/>
<text transform="translate(426.20,76.91) scale(0.840,1)" font-size="8.3" text-anchor="end" font-weight="normal" fill="#231f20" stroke="#231f20" stroke-width="0.12" >40</text>
<line x1="429.50" y1="58.50" x2="432.50" y2="58.50" stroke="#231f20" stroke-width="1.0" stroke-linecap="butt"/>
<text transform="translate(426.20,61.60) scale(0.840,1)" font-size="8.3" text-anchor="end" font-weight="normal" fill="#231f20" stroke="#231f20" stroke-width="0.12" >60</text>
<line x1="429.50" y1="43.50" x2="432.50" y2="43.50" stroke="#231f20" stroke-width="1.0" stroke-linecap="butt"/>
<text transform="translate(426.20,46.30) scale(0.840,1)" font-size="8.3" text-anchor="end" font-weight="normal" fill="#231f20" stroke="#231f20" stroke-width="0.12" >80</text>
<line x1="429.50" y1="28.50" x2="432.50" y2="28.50" stroke="#231f20" stroke-width="1.0" stroke-linecap="butt"/>
<text transform="translate(426.20,31.00) scale(0.840,1)" font-size="8.3" text-anchor="end" font-weight="normal" fill="#231f20" stroke="#231f20" stroke-width="0.12" >100</text>
<line x1="446.50" y1="104.60" x2="446.50" y2="107.60" stroke="#231f20" stroke-width="1.0" stroke-linecap="butt"/>
<line x1="466.50" y1="104.60" x2="466.50" y2="107.60" stroke="#231f20" stroke-width="1.0" stroke-linecap="butt"/>
<line x1="487.50" y1="104.60" x2="487.50" y2="107.60" stroke="#231f20" stroke-width="1.0" stroke-linecap="butt"/>
<line x1="507.50" y1="104.60" x2="507.50" y2="107.60" stroke="#231f20" stroke-width="1.0" stroke-linecap="butt"/>
<text transform="translate(448.85,112.00) rotate(-45)" font-size="8.3" text-anchor="end" fill="#231f20" stroke="#231f20" stroke-width="0.12" dy="0.35em">DMSO</text>
<text transform="translate(469.45,112.00) rotate(-45)" font-size="8.3" text-anchor="end" fill="#231f20" stroke="#231f20" stroke-width="0.12" dy="0.35em">Dasatinib</text>
<text transform="translate(489.85,112.00) rotate(-45)" font-size="8.3" text-anchor="end" fill="#231f20" stroke="#231f20" stroke-width="0.12" dy="0.35em">Temsirolimus</text>
<text transform="translate(510.45,112.00) rotate(-45)" font-size="8.3" text-anchor="end" fill="#231f20" stroke="#231f20" stroke-width="0.12" dy="0.35em">Combo</text>
<text transform="translate(407.71,64.40) rotate(-90) scale(0.8717,1)" font-size="8.6" text-anchor="middle" fill="#231f20" stroke="#231f20" stroke-width="0.12" font-weight="normal">% pLCK/pS6K positive cells</text>
<text transform="translate(476.60,10.67) scale(0.992,1)" font-size="9.5" text-anchor="middle" font-weight="normal" fill="#231f20" stroke="#231f20" stroke-width="0.12" >TA10</text>
<line x1="443.50" y1="20.50" x2="511.50" y2="20.50" stroke="#231f20" stroke-width="1.0" stroke-linecap="butt"/>
<line x1="511.50" y1="20.70" x2="511.50" y2="23.50" stroke="#231f20" stroke-width="1.0" stroke-linecap="butt"/>
<line x1="466.50" y1="20.70" x2="466.50" y2="23.50" stroke="#231f20" stroke-width="1.0" stroke-linecap="butt"/>
<line x1="490.50" y1="20.70" x2="490.50" y2="23.50" stroke="#231f20" stroke-width="1.0" stroke-linecap="butt"/>
<text x="455.80" y="18.51" font-size="7.6" text-anchor="middle" font-weight="normal" fill="#231f20" stroke="#231f20" stroke-width="0.12" >ns</text>
<text x="479.00" y="18.51" font-size="7.6" text-anchor="middle" font-weight="normal" fill="#231f20" stroke="#231f20" stroke-width="0.12" >ns</text>
<text x="500.20" y="19.75" font-size="8.0" text-anchor="middle" font-weight="normal" fill="#231f20" stroke="#231f20" stroke-width="0.45" >*</text>
<line x1="466.50" y1="29.50" x2="511.50" y2="29.50" stroke="#231f20" stroke-width="1.0" stroke-linecap="butt"/>
<line x1="511.50" y1="29.90" x2="511.50" y2="32.70" stroke="#231f20" stroke-width="1.0" stroke-linecap="butt"/>
<line x1="490.50" y1="29.90" x2="490.50" y2="32.70" stroke="#231f20" stroke-width="1.0" stroke-linecap="butt"/>
<text x="479.00" y="27.71" font-size="7.6" text-anchor="middle" font-weight="normal" fill="#231f20" stroke="#231f20" stroke-width="0.12" >ns</text>
<text x="500.20" y="27.71" font-size="7.6" text-anchor="middle" font-weight="normal" fill="#231f20" stroke="#231f20" stroke-width="0.12" >ns</text>
<line x1="490.30" y1="39.50" x2="511.50" y2="39.50" stroke="#231f20" stroke-width="1.0" stroke-linecap="butt"/>
<line x1="511.50" y1="39.00" x2="511.50" y2="41.80" stroke="#231f20" stroke-width="1.0" stroke-linecap="butt"/>
<text x="500.20" y="36.81" font-size="7.6" text-anchor="middle" font-weight="normal" fill="#231f20" stroke="#231f20" stroke-width="0.12" >ns</text>
<rect x="439.20" y="197.36" width="13.9" height="63.14" fill="#a690bc"/>
<rect x="459.80" y="196.20" width="13.9" height="64.30" fill="#e2808f"/>
<rect x="480.20" y="203.91" width="13.9" height="56.59" fill="#84a6c7"/>
<rect x="500.80" y="205.44" width="13.9" height="55.06" fill="#97d6a0"/>
<circle cx="441.15" cy="197.36" r="1.75" fill="#4b2670"/>
<circle cx="446.15" cy="196.59" r="1.75" fill="#4b2670"/>
<circle cx="451.15" cy="196.97" r="1.75" fill="#4b2670"/>
<line x1="466.50" y1="193.89" x2="466.50" y2="198.51" stroke="#231f20" stroke-width="1.0" stroke-linecap="butt"/>
<line x1="463.55" y1="193.89" x2="469.95" y2="193.89" stroke="#231f20" stroke-width="1.3" stroke-linecap="butt"/>
<line x1="463.55" y1="198.51" x2="469.95" y2="198.51" stroke="#231f20" stroke-width="1.3" stroke-linecap="butt"/>
<circle cx="461.75" cy="196.97" r="1.75" fill="#c8163c"/>
<circle cx="466.75" cy="191.97" r="1.75" fill="#c8163c"/>
<circle cx="471.75" cy="196.97" r="1.75" fill="#c8163c"/>
<line x1="487.50" y1="203.29" x2="487.50" y2="204.52" stroke="#231f20" stroke-width="1.0" stroke-linecap="butt"/>
<line x1="483.95" y1="203.29" x2="490.35" y2="203.29" stroke="#231f20" stroke-width="1.3" stroke-linecap="butt"/>
<line x1="483.95" y1="204.52" x2="490.35" y2="204.52" stroke="#231f20" stroke-width="1.3" stroke-linecap="butt"/>
<circle cx="482.15" cy="204.29" r="1.75" fill="#1d4f8c"/>
<circle cx="485.65" cy="203.52" r="1.75" fill="#1d4f8c"/>
<circle cx="489.15" cy="203.13" r="1.75" fill="#1d4f8c"/>
<circle cx="492.15" cy="203.52" r="1.75" fill="#1d4f8c"/>
<circle cx="502.75" cy="205.44" r="1.75" fill="#3fa552"/>
<circle cx="507.75" cy="204.68" r="1.75" fill="#3fa552"/>
<circle cx="512.75" cy="205.44" r="1.75" fill="#3fa552"/>
<line x1="432.50" y1="179.50" x2="432.50" y2="261.20" stroke="#1a1a1a" stroke-width="1.4" stroke-linecap="butt"/>
<line x1="431.80" y1="260.50" x2="516.00" y2="260.50" stroke="#1a1a1a" stroke-width="1.4" stroke-linecap="butt"/>
<line x1="429.50" y1="260.50" x2="432.50" y2="260.50" stroke="#231f20" stroke-width="1.0" stroke-linecap="butt"/>
<text transform="translate(426.20,263.40) scale(0.840,1)" font-size="8.3" text-anchor="end" font-weight="normal" fill="#231f20" stroke="#231f20" stroke-width="0.12" >0</text>
<line x1="429.50" y1="245.50" x2="432.50" y2="245.50" stroke="#231f20" stroke-width="1.0" stroke-linecap="butt"/>
<text transform="translate(426.20,248.00) scale(0.840,1)" font-size="8.3" text-anchor="end" font-weight="normal" fill="#231f20" stroke="#231f20" stroke-width="0.12" >20</text>
<line x1="429.50" y1="229.50" x2="432.50" y2="229.50" stroke="#231f20" stroke-width="1.0" stroke-linecap="butt"/>
<text transform="translate(426.20,232.60) scale(0.840,1)" font-size="8.3" text-anchor="end" font-weight="normal" fill="#231f20" stroke="#231f20" stroke-width="0.12" >40</text>
<line x1="429.50" y1="214.50" x2="432.50" y2="214.50" stroke="#231f20" stroke-width="1.0" stroke-linecap="butt"/>
<text transform="translate(426.20,217.21) scale(0.840,1)" font-size="8.3" text-anchor="end" font-weight="normal" fill="#231f20" stroke="#231f20" stroke-width="0.12" >60</text>
<line x1="429.50" y1="198.50" x2="432.50" y2="198.50" stroke="#231f20" stroke-width="1.0" stroke-linecap="butt"/>
<text transform="translate(426.20,201.81) scale(0.840,1)" font-size="8.3" text-anchor="end" font-weight="normal" fill="#231f20" stroke="#231f20" stroke-width="0.12" >80</text>
<line x1="429.50" y1="183.50" x2="432.50" y2="183.50" stroke="#231f20" stroke-width="1.0" stroke-linecap="butt"/>
<text transform="translate(426.20,186.41) scale(0.840,1)" font-size="8.3" text-anchor="end" font-weight="normal" fill="#231f20" stroke="#231f20" stroke-width="0.12" >100</text>
<line x1="446.50" y1="260.50" x2="446.50" y2="263.50" stroke="#231f20" stroke-width="1.0" stroke-linecap="butt"/>
<line x1="466.50" y1="260.50" x2="466.50" y2="263.50" stroke="#231f20" stroke-width="1.0" stroke-linecap="butt"/>
<line x1="487.50" y1="260.50" x2="487.50" y2="263.50" stroke="#231f20" stroke-width="1.0" stroke-linecap="butt"/>
<line x1="507.50" y1="260.50" x2="507.50" y2="263.50" stroke="#231f20" stroke-width="1.0" stroke-linecap="butt"/>
<text transform="translate(448.85,267.90) rotate(-45)" font-size="8.3" text-anchor="end" fill="#231f20" stroke="#231f20" stroke-width="0.12" dy="0.35em">DMSO</text>
<text transform="translate(469.45,267.90) rotate(-45)" font-size="8.3" text-anchor="end" fill="#231f20" stroke="#231f20" stroke-width="0.12" dy="0.35em">Dasatinib</text>
<text transform="translate(489.85,267.90) rotate(-45)" font-size="8.3" text-anchor="end" fill="#231f20" stroke="#231f20" stroke-width="0.12" dy="0.35em">Temsirolimus</text>
<text transform="translate(510.45,267.90) rotate(-45)" font-size="8.3" text-anchor="end" fill="#231f20" stroke="#231f20" stroke-width="0.12" dy="0.35em">Combo</text>
<text transform="translate(407.71,219.50) rotate(-90) scale(0.8717,1)" font-size="8.6" text-anchor="middle" fill="#231f20" stroke="#231f20" stroke-width="0.12" font-weight="normal">% pLCK/pS6K positive cells</text>
<text transform="translate(476.65,166.38) scale(1.049,1)" font-size="9.5" text-anchor="middle" font-weight="normal" fill="#231f20" stroke="#231f20" stroke-width="0.12" >24836</text>
<line x1="443.50" y1="179.50" x2="511.50" y2="179.50" stroke="#231f20" stroke-width="1.0" stroke-linecap="butt"/>
<line x1="511.50" y1="179.40" x2="511.50" y2="182.20" stroke="#231f20" stroke-width="1.0" stroke-linecap="butt"/>
<line x1="466.50" y1="179.40" x2="466.50" y2="182.20" stroke="#231f20" stroke-width="1.0" stroke-linecap="butt"/>
<line x1="490.50" y1="179.40" x2="490.50" y2="182.20" stroke="#231f20" stroke-width="1.0" stroke-linecap="butt"/>
<text x="455.80" y="177.21" font-size="7.6" text-anchor="middle" font-weight="normal" fill="#231f20" stroke="#231f20" stroke-width="0.12" >ns</text>
<text x="479.00" y="178.45" font-size="8.0" text-anchor="middle" font-weight="normal" fill="#231f20" stroke="#231f20" stroke-width="0.45" >*</text>
<text x="500.20" y="178.45" font-size="8.0" text-anchor="middle" font-weight="normal" fill="#231f20" stroke="#231f20" stroke-width="0.45" >**</text>
<line x1="466.50" y1="187.50" x2="511.50" y2="187.50" stroke="#231f20" stroke-width="1.0" stroke-linecap="butt"/>
<line x1="511.50" y1="187.50" x2="511.50" y2="190.30" stroke="#231f20" stroke-width="1.0" stroke-linecap="butt"/>
<line x1="490.50" y1="187.50" x2="490.50" y2="190.30" stroke="#231f20" stroke-width="1.0" stroke-linecap="butt"/>
<text x="479.00" y="186.55" font-size="8.0" text-anchor="middle" font-weight="normal" fill="#231f20" stroke="#231f20" stroke-width="0.45" >**</text>
<text x="500.20" y="186.55" font-size="8.0" text-anchor="middle" font-weight="normal" fill="#231f20" stroke="#231f20" stroke-width="0.45" >***</text>
<line x1="490.30" y1="196.50" x2="511.50" y2="196.50" stroke="#231f20" stroke-width="1.0" stroke-linecap="butt"/>
<line x1="511.50" y1="196.10" x2="511.50" y2="198.90" stroke="#231f20" stroke-width="1.0" stroke-linecap="butt"/>
<text x="500.20" y="193.91" font-size="7.6" text-anchor="middle" font-weight="normal" fill="#231f20" stroke="#231f20" stroke-width="0.12" >ns</text>
<rect x="439.20" y="359.98" width="13.9" height="56.22" fill="#a690bc"/>
<rect x="459.80" y="376.83" width="13.9" height="39.37" fill="#e2808f"/>
<rect x="480.20" y="359.21" width="13.9" height="56.99" fill="#84a6c7"/>
<rect x="500.80" y="393.68" width="13.9" height="22.52" fill="#97d6a0"/>
<line x1="446.50" y1="358.44" x2="446.50" y2="361.51" stroke="#231f20" stroke-width="1.0" stroke-linecap="butt"/>
<line x1="442.95" y1="358.44" x2="449.35" y2="358.44" stroke="#231f20" stroke-width="1.3" stroke-linecap="butt"/>
<line x1="442.95" y1="361.51" x2="449.35" y2="361.51" stroke="#231f20" stroke-width="1.3" stroke-linecap="butt"/>
<circle cx="441.65" cy="361.05" r="1.75" fill="#4b2670"/>
<circle cx="446.15" cy="356.45" r="1.75" fill="#4b2670"/>
<circle cx="450.65" cy="361.05" r="1.75" fill="#4b2670"/>
<line x1="466.50" y1="368.78" x2="466.50" y2="384.87" stroke="#231f20" stroke-width="1.0" stroke-linecap="butt"/>
<line x1="463.55" y1="368.78" x2="469.95" y2="368.78" stroke="#231f20" stroke-width="1.3" stroke-linecap="butt"/>
<line x1="463.55" y1="384.87" x2="469.95" y2="384.87" stroke="#231f20" stroke-width="1.3" stroke-linecap="butt"/>
<circle cx="461.75" cy="385.56" r="1.75" fill="#c8163c"/>
<circle cx="466.75" cy="360.28" r="1.75" fill="#c8163c"/>
<circle cx="471.75" cy="385.56" r="1.75" fill="#c8163c"/>
<line x1="487.50" y1="357.68" x2="487.50" y2="360.74" stroke="#231f20" stroke-width="1.0" stroke-linecap="butt"/>
<line x1="483.95" y1="357.68" x2="490.35" y2="357.68" stroke="#231f20" stroke-width="1.3" stroke-linecap="butt"/>
<line x1="483.95" y1="360.74" x2="490.35" y2="360.74" stroke="#231f20" stroke-width="1.3" stroke-linecap="butt"/>
<circle cx="482.65" cy="356.45" r="1.75" fill="#1d4f8c"/>
<circle cx="487.15" cy="361.81" r="1.75" fill="#1d4f8c"/>
<circle cx="491.65" cy="358.75" r="1.75" fill="#1d4f8c"/>
<line x1="507.50" y1="391.38" x2="507.50" y2="395.98" stroke="#231f20" stroke-width="1.0" stroke-linecap="butt"/>
<line x1="504.55" y1="391.38" x2="510.95" y2="391.38" stroke="#231f20" stroke-width="1.3" stroke-linecap="butt"/>
<line x1="504.55" y1="395.98" x2="510.95" y2="395.98" stroke="#231f20" stroke-width="1.3" stroke-linecap="butt"/>
<circle cx="503.25" cy="393.22" r="1.75" fill="#3fa552"/>
<circle cx="507.75" cy="390.16" r="1.75" fill="#3fa552"/>
<circle cx="512.25" cy="393.22" r="1.75" fill="#3fa552"/>
<line x1="432.50" y1="335.80" x2="432.50" y2="416.90" stroke="#1a1a1a" stroke-width="1.4" stroke-linecap="butt"/>
<line x1="431.80" y1="416.20" x2="516.00" y2="416.20" stroke="#1a1a1a" stroke-width="1.4" stroke-linecap="butt"/>
<line x1="429.50" y1="416.50" x2="432.50" y2="416.50" stroke="#231f20" stroke-width="1.0" stroke-linecap="butt"/>
<text transform="translate(426.20,419.10) scale(0.840,1)" font-size="8.3" text-anchor="end" font-weight="normal" fill="#231f20" stroke="#231f20" stroke-width="0.12" >0</text>
<line x1="429.50" y1="400.50" x2="432.50" y2="400.50" stroke="#231f20" stroke-width="1.0" stroke-linecap="butt"/>
<text transform="translate(426.20,403.78) scale(0.840,1)" font-size="8.3" text-anchor="end" font-weight="normal" fill="#231f20" stroke="#231f20" stroke-width="0.12" >2</text>
<line x1="429.50" y1="385.50" x2="432.50" y2="385.50" stroke="#231f20" stroke-width="1.0" stroke-linecap="butt"/>
<text transform="translate(426.20,388.46) scale(0.840,1)" font-size="8.3" text-anchor="end" font-weight="normal" fill="#231f20" stroke="#231f20" stroke-width="0.12" >4</text>
<line x1="429.50" y1="370.50" x2="432.50" y2="370.50" stroke="#231f20" stroke-width="1.0" stroke-linecap="butt"/>
<text transform="translate(426.20,373.14) scale(0.840,1)" font-size="8.3" text-anchor="end" font-weight="normal" fill="#231f20" stroke="#231f20" stroke-width="0.12" >6</text>
<line x1="429.50" y1="354.50" x2="432.50" y2="354.50" stroke="#231f20" stroke-width="1.0" stroke-linecap="butt"/>
<text transform="translate(426.20,357.82) scale(0.840,1)" font-size="8.3" text-anchor="end" font-weight="normal" fill="#231f20" stroke="#231f20" stroke-width="0.12" >8</text>
<line x1="429.50" y1="339.50" x2="432.50" y2="339.50" stroke="#231f20" stroke-width="1.0" stroke-linecap="butt"/>
<text transform="translate(426.20,342.50) scale(0.840,1)" font-size="8.3" text-anchor="end" font-weight="normal" fill="#231f20" stroke="#231f20" stroke-width="0.12" >10</text>
<line x1="446.50" y1="416.20" x2="446.50" y2="419.20" stroke="#231f20" stroke-width="1.0" stroke-linecap="butt"/>
<line x1="466.50" y1="416.20" x2="466.50" y2="419.20" stroke="#231f20" stroke-width="1.0" stroke-linecap="butt"/>
<line x1="487.50" y1="416.20" x2="487.50" y2="419.20" stroke="#231f20" stroke-width="1.0" stroke-linecap="butt"/>
<line x1="507.50" y1="416.20" x2="507.50" y2="419.20" stroke="#231f20" stroke-width="1.0" stroke-linecap="butt"/>
<text transform="translate(448.85,423.60) rotate(-45)" font-size="8.3" text-anchor="end" fill="#231f20" stroke="#231f20" stroke-width="0.12" dy="0.35em">DMSO</text>
<text transform="translate(469.45,423.60) rotate(-45)" font-size="8.3" text-anchor="end" fill="#231f20" stroke="#231f20" stroke-width="0.12" dy="0.35em">Dasatinib</text>
<text transform="translate(489.85,423.60) rotate(-45)" font-size="8.3" text-anchor="end" fill="#231f20" stroke="#231f20" stroke-width="0.12" dy="0.35em">Temsirolimus</text>
<text transform="translate(510.45,423.60) rotate(-45)" font-size="8.3" text-anchor="end" fill="#231f20" stroke="#231f20" stroke-width="0.12" dy="0.35em">Combo</text>
<text transform="translate(407.71,374.90) rotate(-90) scale(0.8717,1)" font-size="8.6" text-anchor="middle" fill="#231f20" stroke="#231f20" stroke-width="0.12" font-weight="normal">% pLCK/pS6K positive cells</text>
<text transform="translate(476.00,320.93) scale(0.979,1)" font-size="9.5" text-anchor="middle" font-weight="normal" fill="#231f20" stroke="#231f20" stroke-width="0.12" >S42512</text>
<line x1="443.50" y1="333.50" x2="511.50" y2="333.50" stroke="#231f20" stroke-width="1.0" stroke-linecap="butt"/>
<line x1="511.50" y1="333.40" x2="511.50" y2="336.20" stroke="#231f20" stroke-width="1.0" stroke-linecap="butt"/>
<line x1="466.50" y1="333.40" x2="466.50" y2="336.20" stroke="#231f20" stroke-width="1.0" stroke-linecap="butt"/>
<line x1="490.50" y1="333.40" x2="490.50" y2="336.20" stroke="#231f20" stroke-width="1.0" stroke-linecap="butt"/>
<text x="455.80" y="331.21" font-size="7.6" text-anchor="middle" font-weight="normal" fill="#231f20" stroke="#231f20" stroke-width="0.12" >ns</text>
<text x="479.00" y="331.21" font-size="7.6" text-anchor="middle" font-weight="normal" fill="#231f20" stroke="#231f20" stroke-width="0.12" >ns</text>
<text x="500.20" y="332.45" font-size="8.0" text-anchor="middle" font-weight="normal" fill="#231f20" stroke="#231f20" stroke-width="0.45" >**</text>
<line x1="466.50" y1="343.50" x2="511.50" y2="343.50" stroke="#231f20" stroke-width="1.0" stroke-linecap="butt"/>
<line x1="511.50" y1="343.00" x2="511.50" y2="345.80" stroke="#231f20" stroke-width="1.0" stroke-linecap="butt"/>
<line x1="490.50" y1="343.00" x2="490.50" y2="345.80" stroke="#231f20" stroke-width="1.0" stroke-linecap="butt"/>
<text x="479.00" y="340.81" font-size="7.6" text-anchor="middle" font-weight="normal" fill="#231f20" stroke="#231f20" stroke-width="0.12" >ns</text>
<text x="500.20" y="340.81" font-size="7.6" text-anchor="middle" font-weight="normal" fill="#231f20" stroke="#231f20" stroke-width="0.12" >ns</text>
<line x1="490.30" y1="352.50" x2="511.50" y2="352.50" stroke="#231f20" stroke-width="1.0" stroke-linecap="butt"/>
<line x1="511.50" y1="352.60" x2="511.50" y2="355.40" stroke="#231f20" stroke-width="1.0" stroke-linecap="butt"/>
<text x="500.20" y="351.65" font-size="8.0" text-anchor="middle" font-weight="normal" fill="#231f20" stroke="#231f20" stroke-width="0.45" >**</text>
<rect x="439.20" y="504.92" width="13.9" height="66.48" fill="#a690bc"/>
<rect x="459.80" y="509.74" width="13.9" height="61.66" fill="#e2808f"/>
<rect x="480.20" y="514.48" width="13.9" height="56.92" fill="#84a6c7"/>
<rect x="500.80" y="517.39" width="13.9" height="54.01" fill="#97d6a0"/>
<line x1="446.50" y1="503.77" x2="446.50" y2="506.07" stroke="#231f20" stroke-width="1.0" stroke-linecap="butt"/>
<line x1="442.95" y1="503.77" x2="449.35" y2="503.77" stroke="#231f20" stroke-width="1.3" stroke-linecap="butt"/>
<line x1="442.95" y1="506.07" x2="449.35" y2="506.07" stroke="#231f20" stroke-width="1.3" stroke-linecap="butt"/>
<circle cx="441.65" cy="503.31" r="1.75" fill="#4b2670"/>
<circle cx="446.15" cy="505.23" r="1.75" fill="#4b2670"/>
<circle cx="450.65" cy="504.84" r="1.75" fill="#4b2670"/>
<line x1="466.50" y1="508.36" x2="466.50" y2="511.12" stroke="#231f20" stroke-width="1.0" stroke-linecap="butt"/>
<line x1="463.55" y1="508.36" x2="469.95" y2="508.36" stroke="#231f20" stroke-width="1.3" stroke-linecap="butt"/>
<line x1="463.55" y1="511.12" x2="469.95" y2="511.12" stroke="#231f20" stroke-width="1.3" stroke-linecap="butt"/>
<circle cx="462.25" cy="509.43" r="1.75" fill="#c8163c"/>
<circle cx="466.75" cy="507.14" r="1.75" fill="#c8163c"/>
<circle cx="471.25" cy="509.43" r="1.75" fill="#c8163c"/>
<line x1="487.50" y1="513.34" x2="487.50" y2="515.63" stroke="#231f20" stroke-width="1.0" stroke-linecap="butt"/>
<line x1="483.95" y1="513.34" x2="490.35" y2="513.34" stroke="#231f20" stroke-width="1.3" stroke-linecap="butt"/>
<line x1="483.95" y1="515.63" x2="490.35" y2="515.63" stroke="#231f20" stroke-width="1.3" stroke-linecap="butt"/>
<circle cx="482.65" cy="512.11" r="1.75" fill="#1d4f8c"/>
<circle cx="487.15" cy="514.41" r="1.75" fill="#1d4f8c"/>
<circle cx="491.65" cy="512.50" r="1.75" fill="#1d4f8c"/>
<line x1="507.50" y1="517.01" x2="507.50" y2="517.77" stroke="#231f20" stroke-width="1.0" stroke-linecap="butt"/>
<line x1="504.55" y1="517.01" x2="510.95" y2="517.01" stroke="#231f20" stroke-width="1.3" stroke-linecap="butt"/>
<line x1="504.55" y1="517.77" x2="510.95" y2="517.77" stroke="#231f20" stroke-width="1.3" stroke-linecap="butt"/>
<circle cx="503.25" cy="517.09" r="1.75" fill="#3fa552"/>
<circle cx="507.75" cy="516.70" r="1.75" fill="#3fa552"/>
<circle cx="512.25" cy="517.47" r="1.75" fill="#3fa552"/>
<line x1="432.50" y1="491.00" x2="432.50" y2="572.10" stroke="#1a1a1a" stroke-width="1.4" stroke-linecap="butt"/>
<line x1="431.80" y1="571.40" x2="516.00" y2="571.40" stroke="#1a1a1a" stroke-width="1.4" stroke-linecap="butt"/>
<line x1="429.50" y1="571.50" x2="432.50" y2="571.50" stroke="#231f20" stroke-width="1.0" stroke-linecap="butt"/>
<text transform="translate(426.20,574.30) scale(0.840,1)" font-size="8.3" text-anchor="end" font-weight="normal" fill="#231f20" stroke="#231f20" stroke-width="0.12" >0</text>
<line x1="429.50" y1="556.50" x2="432.50" y2="556.50" stroke="#231f20" stroke-width="1.0" stroke-linecap="butt"/>
<text transform="translate(426.20,559.00) scale(0.840,1)" font-size="8.3" text-anchor="end" font-weight="normal" fill="#231f20" stroke="#231f20" stroke-width="0.12" >20</text>
<line x1="429.50" y1="540.50" x2="432.50" y2="540.50" stroke="#231f20" stroke-width="1.0" stroke-linecap="butt"/>
<text transform="translate(426.20,543.70) scale(0.840,1)" font-size="8.3" text-anchor="end" font-weight="normal" fill="#231f20" stroke="#231f20" stroke-width="0.12" >40</text>
<line x1="429.50" y1="525.50" x2="432.50" y2="525.50" stroke="#231f20" stroke-width="1.0" stroke-linecap="butt"/>
<text transform="translate(426.20,528.40) scale(0.840,1)" font-size="8.3" text-anchor="end" font-weight="normal" fill="#231f20" stroke="#231f20" stroke-width="0.12" >60</text>
<line x1="429.50" y1="510.50" x2="432.50" y2="510.50" stroke="#231f20" stroke-width="1.0" stroke-linecap="butt"/>
<text transform="translate(426.20,513.11) scale(0.840,1)" font-size="8.3" text-anchor="end" font-weight="normal" fill="#231f20" stroke="#231f20" stroke-width="0.12" >80</text>
<line x1="429.50" y1="494.50" x2="432.50" y2="494.50" stroke="#231f20" stroke-width="1.0" stroke-linecap="butt"/>
<text transform="translate(426.20,497.80) scale(0.840,1)" font-size="8.3" text-anchor="end" font-weight="normal" fill="#231f20" stroke="#231f20" stroke-width="0.12" >100</text>
<line x1="446.50" y1="571.40" x2="446.50" y2="574.40" stroke="#231f20" stroke-width="1.0" stroke-linecap="butt"/>
<line x1="466.50" y1="571.40" x2="466.50" y2="574.40" stroke="#231f20" stroke-width="1.0" stroke-linecap="butt"/>
<line x1="487.50" y1="571.40" x2="487.50" y2="574.40" stroke="#231f20" stroke-width="1.0" stroke-linecap="butt"/>
<line x1="507.50" y1="571.40" x2="507.50" y2="574.40" stroke="#231f20" stroke-width="1.0" stroke-linecap="butt"/>
<text transform="translate(448.85,578.80) rotate(-45)" font-size="8.3" text-anchor="end" fill="#231f20" stroke="#231f20" stroke-width="0.12" dy="0.35em">DMSO</text>
<text transform="translate(469.45,578.80) rotate(-45)" font-size="8.3" text-anchor="end" fill="#231f20" stroke="#231f20" stroke-width="0.12" dy="0.35em">Dasatinib</text>
<text transform="translate(489.85,578.80) rotate(-45)" font-size="8.3" text-anchor="end" fill="#231f20" stroke="#231f20" stroke-width="0.12" dy="0.35em">Temsirolimus</text>
<text transform="translate(510.45,578.80) rotate(-45)" font-size="8.3" text-anchor="end" fill="#231f20" stroke="#231f20" stroke-width="0.12" dy="0.35em">Combo</text>
<text transform="translate(407.71,530.80) rotate(-90) scale(0.8717,1)" font-size="8.6" text-anchor="middle" fill="#231f20" stroke="#231f20" stroke-width="0.12" font-weight="normal">% pLCK/pS6K positive cells</text>
<text transform="translate(476.10,476.52) scale(1.007,1)" font-size="9.5" text-anchor="middle" font-weight="normal" fill="#231f20" stroke="#231f20" stroke-width="0.12" >44179</text>
<line x1="443.50" y1="488.50" x2="511.50" y2="488.50" stroke="#231f20" stroke-width="1.0" stroke-linecap="butt"/>
<line x1="511.50" y1="488.00" x2="511.50" y2="490.80" stroke="#231f20" stroke-width="1.0" stroke-linecap="butt"/>
<line x1="466.50" y1="488.00" x2="466.50" y2="490.80" stroke="#231f20" stroke-width="1.0" stroke-linecap="butt"/>
<line x1="490.50" y1="488.00" x2="490.50" y2="490.80" stroke="#231f20" stroke-width="1.0" stroke-linecap="butt"/>
<text x="455.80" y="485.81" font-size="7.6" text-anchor="middle" font-weight="normal" fill="#231f20" stroke="#231f20" stroke-width="0.12" >ns</text>
<text x="479.00" y="487.05" font-size="8.0" text-anchor="middle" font-weight="normal" fill="#231f20" stroke="#231f20" stroke-width="0.45" >**</text>
<text x="500.20" y="487.05" font-size="8.0" text-anchor="middle" font-weight="normal" fill="#231f20" stroke="#231f20" stroke-width="0.45" >***</text>
<line x1="466.50" y1="497.50" x2="511.50" y2="497.50" stroke="#231f20" stroke-width="1.0" stroke-linecap="butt"/>
<line x1="511.50" y1="497.60" x2="511.50" y2="500.40" stroke="#231f20" stroke-width="1.0" stroke-linecap="butt"/>
<line x1="490.50" y1="497.60" x2="490.50" y2="500.40" stroke="#231f20" stroke-width="1.0" stroke-linecap="butt"/>
<text x="479.00" y="495.41" font-size="7.6" text-anchor="middle" font-weight="normal" fill="#231f20" stroke="#231f20" stroke-width="0.12" >ns</text>
<text x="500.20" y="496.65" font-size="8.0" text-anchor="middle" font-weight="normal" fill="#231f20" stroke="#231f20" stroke-width="0.45" >**</text>
<line x1="490.30" y1="507.50" x2="511.50" y2="507.50" stroke="#231f20" stroke-width="1.0" stroke-linecap="butt"/>
<line x1="511.50" y1="507.30" x2="511.50" y2="510.10" stroke="#231f20" stroke-width="1.0" stroke-linecap="butt"/>
<text x="500.20" y="505.11" font-size="7.6" text-anchor="middle" font-weight="normal" fill="#231f20" stroke="#231f20" stroke-width="0.12" >ns</text>
</svg>
</body></html>
